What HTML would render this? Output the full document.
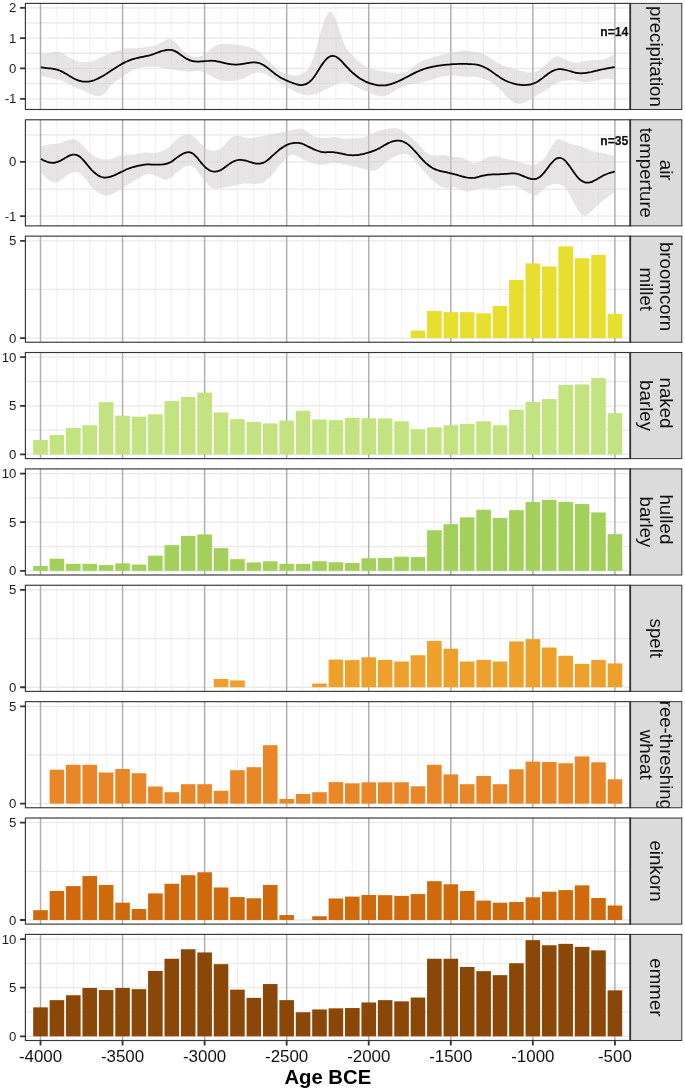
<!DOCTYPE html>
<html lang="en"><head><meta charset="utf-8"><title>Age BCE chart</title>
<style>html,body{margin:0;padding:0;background:#fff}svg{display:block}</style></head>
<body>
<svg width="685" height="1091" viewBox="0 0 685 1091" font-family='"Liberation Sans", Arial, Helvetica, sans-serif'>
<rect width="685" height="1091" fill="#fff"/>
<defs>
<clipPath id="cp0"><rect x="25.4" y="3.40" width="604.90" height="106.1"/></clipPath>
<clipPath id="cs0"><rect x="630.3" y="3.40" width="51.50" height="106.1"/></clipPath>
<clipPath id="cp1"><rect x="25.4" y="119.78" width="604.90" height="106.1"/></clipPath>
<clipPath id="cs1"><rect x="630.3" y="119.78" width="51.50" height="106.1"/></clipPath>
<clipPath id="cp2"><rect x="25.4" y="236.15" width="604.90" height="106.1"/></clipPath>
<clipPath id="cs2"><rect x="630.3" y="236.15" width="51.50" height="106.1"/></clipPath>
<clipPath id="cp3"><rect x="25.4" y="352.52" width="604.90" height="106.1"/></clipPath>
<clipPath id="cs3"><rect x="630.3" y="352.52" width="51.50" height="106.1"/></clipPath>
<clipPath id="cp4"><rect x="25.4" y="468.90" width="604.90" height="106.1"/></clipPath>
<clipPath id="cs4"><rect x="630.3" y="468.90" width="51.50" height="106.1"/></clipPath>
<clipPath id="cp5"><rect x="25.4" y="585.27" width="604.90" height="106.1"/></clipPath>
<clipPath id="cs5"><rect x="630.3" y="585.27" width="51.50" height="106.1"/></clipPath>
<clipPath id="cp6"><rect x="25.4" y="701.65" width="604.90" height="106.1"/></clipPath>
<clipPath id="cs6"><rect x="630.3" y="701.65" width="51.50" height="106.1"/></clipPath>
<clipPath id="cp7"><rect x="25.4" y="818.02" width="604.90" height="106.1"/></clipPath>
<clipPath id="cs7"><rect x="630.3" y="818.02" width="51.50" height="106.1"/></clipPath>
<clipPath id="cp8"><rect x="25.4" y="934.40" width="604.90" height="106.1"/></clipPath>
<clipPath id="cs8"><rect x="630.3" y="934.40" width="51.50" height="106.1"/></clipPath>
</defs>
<g clip-path="url(#cp0)">
<path d="M56.91,3.4V109.5M73.32,3.4V109.5M89.73,3.4V109.5M106.15,3.4V109.5M138.97,3.4V109.5M155.38,3.4V109.5M171.79,3.4V109.5M188.2,3.4V109.5M221.03,3.4V109.5M237.44,3.4V109.5M253.85,3.4V109.5M270.26,3.4V109.5M303.08,3.4V109.5M319.49,3.4V109.5M335.91,3.4V109.5M352.32,3.4V109.5M385.14,3.4V109.5M401.55,3.4V109.5M417.96,3.4V109.5M434.37,3.4V109.5M467.2,3.4V109.5M483.61,3.4V109.5M500.02,3.4V109.5M516.43,3.4V109.5M549.25,3.4V109.5M565.67,3.4V109.5M582.08,3.4V109.5M598.49,3.4V109.5" stroke="#efefef" stroke-width="1" fill="none"/>
<path d="M25.4,7.8H630.3M25.4,22.95H630.3M25.4,38.1H630.3M25.4,53.25H630.3M25.4,68.4H630.3M25.4,83.6H630.3M25.4,98.8H630.3" stroke="#e9e9e9" stroke-width="1.3" fill="none"/>
<path d="M40.5,3.4V109.5M122.56,3.4V109.5M204.61,3.4V109.5M286.67,3.4V109.5M368.73,3.4V109.5M450.79,3.4V109.5M532.84,3.4V109.5M614.9,3.4V109.5" stroke="#b0b0b0" stroke-width="1.5" fill="none"/>
<path d="M40.88,54.19C41.22,54.17 42.22,54.11 42.88,54.06C43.55,54.01 44.22,53.97 44.88,53.91C45.55,53.84 46.22,53.77 46.88,53.67C47.55,53.56 48.22,53.42 48.88,53.26C49.55,53.1 50.22,52.89 50.88,52.7C51.55,52.51 52.22,52.29 52.88,52.14C53.55,51.99 54.22,51.85 54.88,51.79C55.55,51.73 56.22,51.72 56.88,51.76C57.55,51.81 58.22,51.91 58.88,52.06C59.55,52.22 60.22,52.44 60.88,52.7C61.55,52.97 62.22,53.3 62.88,53.65C63.55,54 64.22,54.39 64.88,54.78C65.55,55.16 66.22,55.57 66.88,55.96C67.55,56.36 68.22,56.76 68.88,57.16C69.55,57.55 70.22,57.95 70.88,58.34C71.55,58.72 72.22,59.1 72.88,59.45C73.55,59.8 74.22,60.15 74.88,60.45C75.55,60.76 76.22,61.05 76.88,61.29C77.55,61.53 78.22,61.75 78.88,61.91C79.55,62.07 80.22,62.18 80.88,62.25C81.55,62.32 82.22,62.33 82.88,62.33C83.55,62.33 84.22,62.29 84.88,62.26C85.55,62.23 86.22,62.19 86.88,62.15C87.55,62.11 88.22,62.08 88.88,62.03C89.55,61.97 90.22,61.92 90.88,61.8C91.55,61.68 92.22,61.53 92.88,61.31C93.55,61.09 94.22,60.79 94.88,60.48C95.55,60.16 96.22,59.78 96.88,59.42C97.55,59.06 98.22,58.68 98.88,58.34C99.55,57.99 100.22,57.66 100.88,57.35C101.55,57.04 102.22,56.75 102.88,56.46C103.55,56.18 104.22,55.91 104.88,55.63C105.55,55.36 106.22,55.08 106.88,54.8C107.55,54.53 108.22,54.24 108.88,53.96C109.55,53.68 110.22,53.39 110.88,53.12C111.55,52.85 112.22,52.57 112.88,52.32C113.55,52.06 114.22,51.82 114.88,51.59C115.55,51.36 116.22,51.15 116.88,50.94C117.55,50.72 118.22,50.52 118.88,50.32C119.55,50.12 120.22,49.92 120.88,49.73C121.55,49.54 122.22,49.34 122.88,49.17C123.55,48.99 124.22,48.82 124.88,48.68C125.55,48.53 126.22,48.4 126.88,48.32C127.55,48.23 128.22,48.18 128.88,48.15C129.55,48.12 130.22,48.14 130.88,48.16C131.55,48.18 132.22,48.23 132.88,48.26C133.55,48.29 134.22,48.34 134.88,48.35C135.55,48.36 136.22,48.37 136.88,48.33C137.55,48.29 138.22,48.22 138.88,48.14C139.55,48.05 140.22,47.93 140.88,47.81C141.55,47.7 142.22,47.56 142.88,47.45C143.55,47.33 144.22,47.21 144.88,47.11C145.55,47.02 146.22,46.93 146.88,46.87C147.55,46.81 148.22,46.78 148.88,46.74C149.55,46.7 150.22,46.69 150.88,46.62C151.55,46.56 152.22,46.49 152.88,46.34C153.55,46.2 154.22,46.01 154.88,45.78C155.55,45.54 156.22,45.25 156.88,44.94C157.55,44.63 158.22,44.29 158.88,43.93C159.55,43.58 160.22,43.2 160.88,42.81C161.55,42.42 162.22,41.99 162.88,41.59C163.55,41.19 164.22,40.75 164.88,40.4C165.55,40.05 166.22,39.69 166.88,39.47C167.55,39.25 168.22,39.08 168.88,39.07C169.55,39.06 170.22,39.17 170.88,39.4C171.55,39.63 172.22,40.01 172.88,40.44C173.55,40.87 174.22,41.41 174.88,41.98C175.55,42.55 176.22,43.19 176.88,43.87C177.55,44.55 178.22,45.33 178.88,46.08C179.55,46.84 180.22,47.66 180.88,48.4C181.55,49.14 182.22,49.86 182.88,50.51C183.55,51.17 184.22,51.76 184.88,52.31C185.55,52.86 186.22,53.36 186.88,53.82C187.55,54.27 188.22,54.68 188.88,55.03C189.55,55.38 190.22,55.66 190.88,55.91C191.55,56.16 192.22,56.36 192.88,56.53C193.55,56.71 194.22,56.86 194.88,56.95C195.55,57.04 196.22,57.11 196.88,57.08C197.55,57.06 198.22,56.97 198.88,56.82C199.55,56.68 200.22,56.46 200.88,56.21C201.55,55.96 202.22,55.67 202.88,55.31C203.55,54.95 204.22,54.53 204.88,54.04C205.55,53.55 206.22,52.96 206.88,52.37C207.55,51.78 208.22,51.11 208.88,50.51C209.55,49.91 210.22,49.3 210.88,48.76C211.55,48.22 212.22,47.71 212.88,47.25C213.55,46.78 214.22,46.35 214.88,45.97C215.55,45.59 216.22,45.26 216.88,44.99C217.55,44.73 218.22,44.53 218.88,44.38C219.55,44.22 220.22,44.13 220.88,44.05C221.55,43.97 222.22,43.93 222.88,43.9C223.55,43.86 224.22,43.85 224.88,43.86C225.55,43.86 226.22,43.89 226.88,43.92C227.55,43.95 228.22,44 228.88,44.05C229.55,44.09 230.22,44.15 230.88,44.2C231.55,44.26 232.22,44.32 232.88,44.38C233.55,44.44 234.22,44.51 234.88,44.59C235.55,44.66 236.22,44.74 236.88,44.82C237.55,44.9 238.22,44.99 238.88,45.07C239.55,45.16 240.22,45.25 240.88,45.35C241.55,45.46 242.22,45.57 242.88,45.7C243.55,45.82 244.22,45.97 244.88,46.12C245.55,46.26 246.22,46.43 246.88,46.59C247.55,46.76 248.22,46.93 248.88,47.12C249.55,47.3 250.22,47.5 250.88,47.72C251.55,47.94 252.22,48.18 252.88,48.45C253.55,48.73 254.22,49.02 254.88,49.35C255.55,49.67 256.22,50.02 256.88,50.41C257.55,50.81 258.22,51.23 258.88,51.72C259.55,52.21 260.22,52.77 260.88,53.35C261.55,53.93 262.22,54.58 262.88,55.22C263.55,55.87 264.22,56.55 264.88,57.22C265.55,57.9 266.22,58.59 266.88,59.28C267.55,59.97 268.22,60.68 268.88,61.37C269.55,62.06 270.22,62.76 270.88,63.43C271.55,64.1 272.22,64.76 272.88,65.37C273.55,65.99 274.22,66.57 274.88,67.13C275.55,67.68 276.22,68.21 276.88,68.71C277.55,69.22 278.22,69.7 278.88,70.16C279.55,70.61 280.22,71.04 280.88,71.45C281.55,71.85 282.22,72.22 282.88,72.57C283.55,72.92 284.22,73.25 284.88,73.54C285.55,73.84 286.22,74.11 286.88,74.34C287.55,74.57 288.22,74.76 288.88,74.92C289.55,75.08 290.22,75.21 290.88,75.31C291.55,75.41 292.22,75.49 292.88,75.53C293.55,75.57 294.22,75.58 294.88,75.56C295.55,75.53 296.22,75.47 296.88,75.37C297.55,75.28 298.22,75.16 298.88,74.99C299.55,74.82 300.22,74.62 300.88,74.35C301.55,74.08 302.22,73.76 302.88,73.38C303.55,72.99 304.22,72.57 304.88,72.04C305.55,71.51 306.22,70.95 306.88,70.21C307.55,69.47 308.22,68.64 308.88,67.59C309.55,66.54 310.22,65.34 310.88,63.91C311.55,62.49 312.22,60.86 312.88,59.04C313.55,57.22 314.22,55.16 314.88,52.99C315.55,50.83 316.22,48.45 316.88,46.06C317.55,43.68 318.22,41.14 318.88,38.69C319.55,36.24 320.22,33.71 320.88,31.37C321.55,29.02 322.22,26.71 322.88,24.64C323.55,22.57 324.22,20.61 324.88,18.96C325.55,17.3 326.22,15.83 326.88,14.71C327.55,13.6 328.22,12.75 328.88,12.28C329.55,11.8 330.22,11.64 330.88,11.85C331.55,12.06 332.22,12.64 332.88,13.54C333.55,14.45 334.22,15.77 334.88,17.28C335.55,18.79 336.22,20.68 336.88,22.59C337.55,24.5 338.22,26.68 338.88,28.74C339.55,30.81 340.22,32.98 340.88,34.96C341.55,36.93 342.22,38.86 342.88,40.58C343.55,42.3 344.22,43.89 344.88,45.28C345.55,46.67 346.22,47.86 346.88,48.92C347.55,49.99 348.22,50.83 348.88,51.66C349.55,52.48 350.22,53.16 350.88,53.86C351.55,54.55 352.22,55.2 352.88,55.85C353.55,56.5 354.22,57.13 354.88,57.76C355.55,58.39 356.22,59.02 356.88,59.62C357.55,60.23 358.22,60.83 358.88,61.41C359.55,61.99 360.22,62.55 360.88,63.09C361.55,63.62 362.22,64.14 362.88,64.63C363.55,65.12 364.22,65.6 364.88,66.03C365.55,66.46 366.22,66.86 366.88,67.2C367.55,67.55 368.22,67.83 368.88,68.08C369.55,68.33 370.22,68.53 370.88,68.72C371.55,68.92 372.22,69.09 372.88,69.25C373.55,69.42 374.22,69.58 374.88,69.73C375.55,69.88 376.22,70.02 376.88,70.16C377.55,70.3 378.22,70.44 378.88,70.57C379.55,70.7 380.22,70.83 380.88,70.96C381.55,71.09 382.22,71.21 382.88,71.33C383.55,71.45 384.22,71.57 384.88,71.68C385.55,71.79 386.22,71.89 386.88,71.99C387.55,72.1 388.22,72.2 388.88,72.3C389.55,72.4 390.22,72.51 390.88,72.61C391.55,72.72 392.22,72.83 392.88,72.95C393.55,73.06 394.22,73.19 394.88,73.3C395.55,73.41 396.22,73.54 396.88,73.62C397.55,73.69 398.22,73.76 398.88,73.76C399.55,73.76 400.22,73.7 400.88,73.6C401.55,73.49 402.22,73.33 402.88,73.13C403.55,72.94 404.22,72.7 404.88,72.42C405.55,72.14 406.22,71.82 406.88,71.45C407.55,71.08 408.22,70.65 408.88,70.2C409.55,69.75 410.22,69.25 410.88,68.76C411.55,68.26 412.22,67.75 412.88,67.24C413.55,66.73 414.22,66.22 414.88,65.71C415.55,65.2 416.22,64.69 416.88,64.2C417.55,63.71 418.22,63.21 418.88,62.77C419.55,62.33 420.22,61.91 420.88,61.55C421.55,61.19 422.22,60.88 422.88,60.6C423.55,60.32 424.22,60.08 424.88,59.85C425.55,59.61 426.22,59.4 426.88,59.18C427.55,58.96 428.22,58.76 428.88,58.55C429.55,58.34 430.22,58.14 430.88,57.93C431.55,57.73 432.22,57.53 432.88,57.33C433.55,57.13 434.22,56.93 434.88,56.74C435.55,56.55 436.22,56.36 436.88,56.17C437.55,55.99 438.22,55.81 438.88,55.63C439.55,55.46 440.22,55.29 440.88,55.12C441.55,54.95 442.22,54.79 442.88,54.62C443.55,54.46 444.22,54.29 444.88,54.14C445.55,53.98 446.22,53.83 446.88,53.68C447.55,53.53 448.22,53.39 448.88,53.25C449.55,53.11 450.22,52.97 450.88,52.84C451.55,52.71 452.22,52.57 452.88,52.45C453.55,52.32 454.22,52.19 454.88,52.07C455.55,51.95 456.22,51.83 456.88,51.72C457.55,51.61 458.22,51.5 458.88,51.4C459.55,51.3 460.22,51.19 460.88,51.1C461.55,51.02 462.22,50.92 462.88,50.86C463.55,50.8 464.22,50.76 464.88,50.75C465.55,50.74 466.22,50.77 466.88,50.82C467.55,50.87 468.22,50.95 468.88,51.03C469.55,51.12 470.22,51.22 470.88,51.31C471.55,51.41 472.22,51.51 472.88,51.62C473.55,51.72 474.22,51.83 474.88,51.96C475.55,52.08 476.22,52.22 476.88,52.37C477.55,52.51 478.22,52.67 478.88,52.84C479.55,53 480.22,53.17 480.88,53.36C481.55,53.55 482.22,53.74 482.88,53.98C483.55,54.22 484.22,54.48 484.88,54.78C485.55,55.08 486.22,55.43 486.88,55.79C487.55,56.15 488.22,56.55 488.88,56.95C489.55,57.36 490.22,57.78 490.88,58.22C491.55,58.66 492.22,59.11 492.88,59.57C493.55,60.03 494.22,60.51 494.88,60.97C495.55,61.43 496.22,61.89 496.88,62.32C497.55,62.75 498.22,63.16 498.88,63.53C499.55,63.9 500.22,64.24 500.88,64.56C501.55,64.88 502.22,65.17 502.88,65.45C503.55,65.72 504.22,65.98 504.88,66.22C505.55,66.45 506.22,66.67 506.88,66.87C507.55,67.07 508.22,67.25 508.88,67.43C509.55,67.61 510.22,67.78 510.88,67.95C511.55,68.13 512.22,68.29 512.88,68.48C513.55,68.66 514.22,68.84 514.88,69.04C515.55,69.23 516.22,69.44 516.88,69.65C517.55,69.85 518.22,70.07 518.88,70.27C519.55,70.48 520.22,70.68 520.88,70.86C521.55,71.04 522.22,71.21 522.88,71.36C523.55,71.51 524.22,71.64 524.88,71.77C525.55,71.9 526.22,72.02 526.88,72.13C527.55,72.23 528.22,72.34 528.88,72.4C529.55,72.46 530.22,72.5 530.88,72.48C531.55,72.47 532.22,72.41 532.88,72.31C533.55,72.21 534.22,72.06 534.88,71.88C535.55,71.69 536.22,71.48 536.88,71.19C537.55,70.9 538.22,70.56 538.88,70.16C539.55,69.76 540.22,69.28 540.88,68.78C541.55,68.28 542.22,67.72 542.88,67.15C543.55,66.58 544.22,65.98 544.88,65.35C545.55,64.73 546.22,64.07 546.88,63.4C547.55,62.74 548.22,62.04 548.88,61.39C549.55,60.74 550.22,60.07 550.88,59.48C551.55,58.9 552.22,58.34 552.88,57.89C553.55,57.43 554.22,57.03 554.88,56.77C555.55,56.5 556.22,56.33 556.88,56.28C557.55,56.24 558.22,56.33 558.88,56.48C559.55,56.63 560.22,56.9 560.88,57.18C561.55,57.45 562.22,57.79 562.88,58.13C563.55,58.46 564.22,58.83 564.88,59.18C565.55,59.52 566.22,59.88 566.88,60.2C567.55,60.52 568.22,60.82 568.88,61.08C569.55,61.34 570.22,61.57 570.88,61.77C571.55,61.97 572.22,62.15 572.88,62.29C573.55,62.42 574.22,62.53 574.88,62.59C575.55,62.65 576.22,62.65 576.88,62.63C577.55,62.6 578.22,62.52 578.88,62.44C579.55,62.35 580.22,62.24 580.88,62.12C581.55,62 582.22,61.86 582.88,61.72C583.55,61.58 584.22,61.43 584.88,61.27C585.55,61.12 586.22,60.95 586.88,60.79C587.55,60.64 588.22,60.47 588.88,60.34C589.55,60.21 590.22,60.08 590.88,59.99C591.55,59.91 592.22,59.86 592.88,59.83C593.55,59.8 594.22,59.82 594.88,59.84C595.55,59.86 596.22,59.91 596.88,59.94C597.55,59.96 598.22,60.01 598.88,60C599.55,59.99 600.22,59.97 600.88,59.89C601.55,59.82 602.22,59.69 602.88,59.53C603.55,59.38 604.22,59.17 604.88,58.95C605.55,58.73 606.22,58.49 606.88,58.22C607.55,57.95 608.22,57.65 608.88,57.34C609.55,57.03 610.22,56.68 610.88,56.33C611.55,55.98 612.25,55.62 612.88,55.26C613.52,54.9 614.38,54.37 614.68,54.19L614.68,79.42C614.38,79.37 613.52,79.25 612.88,79.17C612.25,79.09 611.55,79 610.88,78.92C610.22,78.85 609.55,78.76 608.88,78.71C608.22,78.66 607.55,78.61 606.88,78.61C606.22,78.61 605.55,78.65 604.88,78.72C604.22,78.79 603.55,78.91 602.88,79.04C602.22,79.17 601.55,79.33 600.88,79.49C600.22,79.64 599.55,79.81 598.88,79.98C598.22,80.14 597.55,80.31 596.88,80.48C596.22,80.64 595.55,80.81 594.88,80.98C594.22,81.14 593.55,81.31 592.88,81.47C592.22,81.63 591.55,81.8 590.88,81.94C590.22,82.08 589.55,82.23 588.88,82.31C588.22,82.39 587.55,82.44 586.88,82.43C586.22,82.42 585.55,82.34 584.88,82.24C584.22,82.15 583.55,81.99 582.88,81.85C582.22,81.7 581.55,81.53 580.88,81.39C580.22,81.24 579.55,81.09 578.88,80.97C578.22,80.85 577.55,80.75 576.88,80.67C576.22,80.58 575.55,80.53 574.88,80.47C574.22,80.42 573.55,80.38 572.88,80.35C572.22,80.32 571.55,80.29 570.88,80.29C570.22,80.28 569.55,80.28 568.88,80.32C568.22,80.35 567.55,80.41 566.88,80.48C566.22,80.56 565.55,80.66 564.88,80.76C564.22,80.87 563.55,80.98 562.88,81.11C562.22,81.24 561.55,81.37 560.88,81.55C560.22,81.72 559.55,81.91 558.88,82.14C558.22,82.37 557.55,82.64 556.88,82.94C556.22,83.24 555.55,83.57 554.88,83.93C554.22,84.28 553.55,84.66 552.88,85.08C552.22,85.5 551.55,85.95 550.88,86.43C550.22,86.91 549.55,87.43 548.88,87.94C548.22,88.45 547.55,88.99 546.88,89.48C546.22,89.98 545.55,90.46 544.88,90.9C544.22,91.34 543.55,91.73 542.88,92.11C542.22,92.5 541.55,92.84 540.88,93.21C540.22,93.57 539.55,93.92 538.88,94.3C538.22,94.68 537.55,95.07 536.88,95.48C536.22,95.88 535.55,96.31 534.88,96.73C534.22,97.15 533.55,97.59 532.88,98C532.22,98.42 531.55,98.83 530.88,99.21C530.22,99.59 529.55,99.96 528.88,100.31C528.22,100.66 527.55,100.99 526.88,101.31C526.22,101.62 525.55,101.92 524.88,102.18C524.22,102.45 523.55,102.69 522.88,102.89C522.22,103.1 521.55,103.29 520.88,103.43C520.22,103.57 519.55,103.69 518.88,103.72C518.22,103.75 517.55,103.73 516.88,103.61C516.22,103.48 515.55,103.25 514.88,102.97C514.22,102.69 513.55,102.33 512.88,101.92C512.22,101.51 511.55,101.05 510.88,100.52C510.22,100 509.55,99.4 508.88,98.76C508.22,98.12 507.55,97.4 506.88,96.69C506.22,95.97 505.55,95.2 504.88,94.47C504.22,93.73 503.55,92.98 502.88,92.27C502.22,91.55 501.55,90.85 500.88,90.17C500.22,89.49 499.55,88.82 498.88,88.18C498.22,87.54 497.55,86.92 496.88,86.33C496.22,85.75 495.55,85.2 494.88,84.68C494.22,84.17 493.55,83.69 492.88,83.23C492.22,82.77 491.55,82.34 490.88,81.94C490.22,81.54 489.55,81.17 488.88,80.84C488.22,80.51 487.55,80.23 486.88,79.96C486.22,79.69 485.55,79.46 484.88,79.23C484.22,79 483.55,78.79 482.88,78.58C482.22,78.38 481.55,78.18 480.88,77.99C480.22,77.8 479.55,77.61 478.88,77.45C478.22,77.28 477.55,77.12 476.88,77C476.22,76.89 475.55,76.8 474.88,76.75C474.22,76.71 473.55,76.72 472.88,76.73C472.22,76.74 471.55,76.8 470.88,76.82C470.22,76.84 469.55,76.85 468.88,76.84C468.22,76.83 467.55,76.79 466.88,76.75C466.22,76.71 465.55,76.64 464.88,76.58C464.22,76.52 463.55,76.45 462.88,76.39C462.22,76.33 461.55,76.27 460.88,76.21C460.22,76.15 459.55,76.09 458.88,76.04C458.22,75.98 457.55,75.93 456.88,75.88C456.22,75.83 455.55,75.78 454.88,75.74C454.22,75.7 453.55,75.66 452.88,75.65C452.22,75.63 451.55,75.63 450.88,75.65C450.22,75.67 449.55,75.72 448.88,75.77C448.22,75.83 447.55,75.91 446.88,75.99C446.22,76.07 445.55,76.15 444.88,76.25C444.22,76.35 443.55,76.45 442.88,76.58C442.22,76.7 441.55,76.84 440.88,77C440.22,77.15 439.55,77.33 438.88,77.51C438.22,77.7 437.55,77.89 436.88,78.09C436.22,78.28 435.55,78.49 434.88,78.69C434.22,78.88 433.55,79.08 432.88,79.28C432.22,79.48 431.55,79.68 430.88,79.88C430.22,80.08 429.55,80.29 428.88,80.48C428.22,80.68 427.55,80.88 426.88,81.07C426.22,81.27 425.55,81.46 424.88,81.63C424.22,81.81 423.55,81.97 422.88,82.12C422.22,82.27 421.55,82.4 420.88,82.52C420.22,82.64 419.55,82.74 418.88,82.85C418.22,82.96 417.55,83.05 416.88,83.16C416.22,83.27 415.55,83.38 414.88,83.5C414.22,83.62 413.55,83.74 412.88,83.88C412.22,84.01 411.55,84.16 410.88,84.31C410.22,84.46 409.55,84.62 408.88,84.79C408.22,84.95 407.55,85.13 406.88,85.32C406.22,85.5 405.55,85.7 404.88,85.92C404.22,86.13 403.55,86.35 402.88,86.6C402.22,86.84 401.55,87.1 400.88,87.4C400.22,87.69 399.55,88.02 398.88,88.38C398.22,88.74 397.55,89.14 396.88,89.55C396.22,89.96 395.55,90.4 394.88,90.82C394.22,91.25 393.55,91.69 392.88,92.1C392.22,92.52 391.55,92.94 390.88,93.33C390.22,93.73 389.55,94.12 388.88,94.46C388.22,94.79 387.55,95.11 386.88,95.36C386.22,95.61 385.55,95.81 384.88,95.98C384.22,96.14 383.55,96.25 382.88,96.33C382.22,96.4 381.55,96.45 380.88,96.42C380.22,96.4 379.55,96.32 378.88,96.19C378.22,96.06 377.55,95.86 376.88,95.64C376.22,95.42 375.55,95.16 374.88,94.9C374.22,94.63 373.55,94.35 372.88,94.07C372.22,93.79 371.55,93.51 370.88,93.22C370.22,92.94 369.55,92.65 368.88,92.37C368.22,92.09 367.55,91.8 366.88,91.53C366.22,91.25 365.55,90.98 364.88,90.7C364.22,90.43 363.55,90.16 362.88,89.88C362.22,89.6 361.55,89.32 360.88,89.03C360.22,88.74 359.55,88.44 358.88,88.13C358.22,87.82 357.55,87.49 356.88,87.17C356.22,86.84 355.55,86.51 354.88,86.18C354.22,85.85 353.55,85.51 352.88,85.18C352.22,84.85 351.55,84.52 350.88,84.2C350.22,83.89 349.55,83.56 348.88,83.29C348.22,83.03 347.55,82.78 346.88,82.62C346.22,82.45 345.55,82.35 344.88,82.31C344.22,82.28 343.55,82.32 342.88,82.39C342.22,82.45 341.55,82.57 340.88,82.72C340.22,82.87 339.55,83.06 338.88,83.29C338.22,83.51 337.55,83.78 336.88,84.07C336.22,84.35 335.55,84.68 334.88,84.99C334.22,85.31 333.55,85.64 332.88,85.96C332.22,86.27 331.55,86.59 330.88,86.9C330.22,87.22 329.55,87.53 328.88,87.84C328.22,88.15 327.55,88.46 326.88,88.78C326.22,89.09 325.55,89.42 324.88,89.74C324.22,90.07 323.55,90.4 322.88,90.73C322.22,91.06 321.55,91.39 320.88,91.71C320.22,92.02 319.55,92.34 318.88,92.63C318.22,92.92 317.55,93.19 316.88,93.44C316.22,93.69 315.55,93.92 314.88,94.12C314.22,94.33 313.55,94.53 312.88,94.69C312.22,94.86 311.55,95.02 310.88,95.12C310.22,95.22 309.55,95.28 308.88,95.29C308.22,95.3 307.55,95.25 306.88,95.17C306.22,95.1 305.55,94.98 304.88,94.85C304.22,94.72 303.55,94.57 302.88,94.4C302.22,94.23 301.55,94.04 300.88,93.82C300.22,93.61 299.55,93.36 298.88,93.1C298.22,92.84 297.55,92.55 296.88,92.25C296.22,91.95 295.55,91.64 294.88,91.31C294.22,90.98 293.55,90.63 292.88,90.26C292.22,89.9 291.55,89.52 290.88,89.13C290.22,88.75 289.55,88.35 288.88,87.96C288.22,87.57 287.55,87.17 286.88,86.79C286.22,86.4 285.55,86.02 284.88,85.63C284.22,85.24 283.55,84.86 282.88,84.48C282.22,84.09 281.55,83.69 280.88,83.29C280.22,82.89 279.55,82.47 278.88,82.05C278.22,81.63 277.55,81.19 276.88,80.76C276.22,80.32 275.55,79.88 274.88,79.43C274.22,78.99 273.55,78.55 272.88,78.1C272.22,77.66 271.55,77.21 270.88,76.78C270.22,76.35 269.55,75.91 268.88,75.51C268.22,75.11 267.55,74.73 266.88,74.39C266.22,74.06 265.55,73.77 264.88,73.53C264.22,73.28 263.55,73.08 262.88,72.91C262.22,72.75 261.55,72.61 260.88,72.52C260.22,72.44 259.55,72.39 258.88,72.4C258.22,72.41 257.55,72.48 256.88,72.58C256.22,72.68 255.55,72.83 254.88,73.02C254.22,73.2 253.55,73.42 252.88,73.68C252.22,73.95 251.55,74.26 250.88,74.6C250.22,74.95 249.55,75.35 248.88,75.74C248.22,76.12 247.55,76.55 246.88,76.91C246.22,77.28 245.55,77.63 244.88,77.93C244.22,78.23 243.55,78.47 242.88,78.69C242.22,78.92 241.55,79.1 240.88,79.28C240.22,79.45 239.55,79.62 238.88,79.77C238.22,79.92 237.55,80.07 236.88,80.2C236.22,80.33 235.55,80.44 234.88,80.53C234.22,80.63 233.55,80.7 232.88,80.77C232.22,80.83 231.55,80.89 230.88,80.93C230.22,80.98 229.55,81.03 228.88,81.05C228.22,81.07 227.55,81.08 226.88,81.06C226.22,81.04 225.55,80.99 224.88,80.93C224.22,80.86 223.55,80.76 222.88,80.65C222.22,80.54 221.55,80.41 220.88,80.25C220.22,80.09 219.55,79.91 218.88,79.69C218.22,79.48 217.55,79.24 216.88,78.97C216.22,78.71 215.55,78.42 214.88,78.12C214.22,77.82 213.55,77.5 212.88,77.17C212.22,76.83 211.55,76.47 210.88,76.1C210.22,75.74 209.55,75.34 208.88,74.96C208.22,74.58 207.55,74.18 206.88,73.82C206.22,73.46 205.55,73.11 204.88,72.8C204.22,72.49 203.55,72.21 202.88,71.96C202.22,71.71 201.55,71.48 200.88,71.3C200.22,71.11 199.55,70.94 198.88,70.84C198.22,70.74 197.55,70.68 196.88,70.7C196.22,70.71 195.55,70.82 194.88,70.92C194.22,71.02 193.55,71.19 192.88,71.3C192.22,71.41 191.55,71.52 190.88,71.57C190.22,71.62 189.55,71.62 188.88,71.61C188.22,71.59 187.55,71.53 186.88,71.48C186.22,71.42 185.55,71.35 184.88,71.27C184.22,71.2 183.55,71.13 182.88,71.05C182.22,70.97 181.55,70.89 180.88,70.8C180.22,70.72 179.55,70.63 178.88,70.53C178.22,70.43 177.55,70.33 176.88,70.21C176.22,70.09 175.55,69.95 174.88,69.82C174.22,69.68 173.55,69.53 172.88,69.4C172.22,69.28 171.55,69.17 170.88,69.07C170.22,68.97 169.55,68.9 168.88,68.81C168.22,68.72 167.55,68.65 166.88,68.55C166.22,68.46 165.55,68.35 164.88,68.23C164.22,68.1 163.55,67.95 162.88,67.8C162.22,67.66 161.55,67.48 160.88,67.34C160.22,67.2 159.55,67.06 158.88,66.95C158.22,66.84 157.55,66.76 156.88,66.71C156.22,66.65 155.55,66.62 154.88,66.6C154.22,66.58 153.55,66.58 152.88,66.58C152.22,66.58 151.55,66.58 150.88,66.59C150.22,66.6 149.55,66.61 148.88,66.64C148.22,66.66 147.55,66.7 146.88,66.74C146.22,66.77 145.55,66.82 144.88,66.87C144.22,66.92 143.55,66.97 142.88,67.05C142.22,67.12 141.55,67.2 140.88,67.31C140.22,67.43 139.55,67.57 138.88,67.74C138.22,67.92 137.55,68.13 136.88,68.37C136.22,68.61 135.55,68.88 134.88,69.17C134.22,69.46 133.55,69.77 132.88,70.11C132.22,70.45 131.55,70.83 130.88,71.22C130.22,71.62 129.55,72.05 128.88,72.47C128.22,72.9 127.55,73.34 126.88,73.78C126.22,74.22 125.55,74.67 124.88,75.11C124.22,75.56 123.55,76 122.88,76.45C122.22,76.9 121.55,77.34 120.88,77.79C120.22,78.24 119.55,78.69 118.88,79.15C118.22,79.61 117.55,80.07 116.88,80.54C116.22,81.02 115.55,81.48 114.88,81.99C114.22,82.49 113.55,82.99 112.88,83.58C112.22,84.17 111.55,84.8 110.88,85.54C110.22,86.28 109.55,87.15 108.88,88.02C108.22,88.88 107.55,89.87 106.88,90.72C106.22,91.57 105.55,92.42 104.88,93.1C104.22,93.78 103.55,94.35 102.88,94.81C102.22,95.26 101.55,95.58 100.88,95.82C100.22,96.06 99.55,96.19 98.88,96.25C98.22,96.32 97.55,96.31 96.88,96.23C96.22,96.15 95.55,95.99 94.88,95.78C94.22,95.56 93.55,95.25 92.88,94.94C92.22,94.63 91.55,94.25 90.88,93.91C90.22,93.58 89.55,93.24 88.88,92.93C88.22,92.62 87.55,92.33 86.88,92.05C86.22,91.78 85.55,91.51 84.88,91.26C84.22,91 83.55,90.75 82.88,90.51C82.22,90.26 81.55,90.03 80.88,89.8C80.22,89.56 79.55,89.33 78.88,89.07C78.22,88.81 77.55,88.55 76.88,88.25C76.22,87.95 75.55,87.62 74.88,87.28C74.22,86.93 73.55,86.55 72.88,86.17C72.22,85.8 71.55,85.41 70.88,85.03C70.22,84.65 69.55,84.28 68.88,83.92C68.22,83.56 67.55,83.21 66.88,82.87C66.22,82.53 65.55,82.2 64.88,81.9C64.22,81.59 63.55,81.3 62.88,81.04C62.22,80.79 61.55,80.56 60.88,80.35C60.22,80.15 59.55,79.97 58.88,79.8C58.22,79.63 57.55,79.47 56.88,79.32C56.22,79.17 55.55,79.02 54.88,78.88C54.22,78.74 53.55,78.6 52.88,78.46C52.22,78.32 51.55,78.19 50.88,78.05C50.22,77.91 49.55,77.78 48.88,77.64C48.22,77.5 47.55,77.36 46.88,77.22C46.22,77.07 45.55,76.93 44.88,76.79C44.22,76.64 43.55,76.5 42.88,76.35C42.22,76.2 41.22,75.99 40.88,75.91Z" fill="#cfcccc" fill-opacity="0.52" stroke="none"/>
<path d="M40.88,67.27C41.22,67.31 42.22,67.44 42.88,67.52C43.55,67.6 44.22,67.69 44.88,67.77C45.55,67.85 46.22,67.93 46.88,68.02C47.55,68.1 48.22,68.18 48.88,68.26C49.55,68.34 50.22,68.41 50.88,68.49C51.55,68.58 52.22,68.65 52.88,68.75C53.55,68.85 54.22,68.94 54.88,69.08C55.55,69.22 56.22,69.38 56.88,69.58C57.55,69.78 58.22,70.03 58.88,70.29C59.55,70.55 60.22,70.85 60.88,71.15C61.55,71.46 62.22,71.77 62.88,72.11C63.55,72.44 64.22,72.79 64.88,73.17C65.55,73.54 66.22,73.94 66.88,74.35C67.55,74.76 68.22,75.2 68.88,75.62C69.55,76.04 70.22,76.47 70.88,76.87C71.55,77.27 72.22,77.65 72.88,78.01C73.55,78.36 74.22,78.68 74.88,78.98C75.55,79.28 76.22,79.56 76.88,79.82C77.55,80.09 78.22,80.35 78.88,80.57C79.55,80.8 80.22,81.01 80.88,81.17C81.55,81.34 82.22,81.46 82.88,81.56C83.55,81.65 84.22,81.7 84.88,81.73C85.55,81.76 86.22,81.75 86.88,81.72C87.55,81.68 88.22,81.62 88.88,81.54C89.55,81.45 90.22,81.35 90.88,81.21C91.55,81.06 92.22,80.89 92.88,80.68C93.55,80.48 94.22,80.22 94.88,79.95C95.55,79.68 96.22,79.37 96.88,79.06C97.55,78.76 98.22,78.44 98.88,78.11C99.55,77.78 100.22,77.44 100.88,77.08C101.55,76.72 102.22,76.35 102.88,75.96C103.55,75.57 104.22,75.15 104.88,74.73C105.55,74.31 106.22,73.87 106.88,73.44C107.55,73 108.22,72.56 108.88,72.12C109.55,71.69 110.22,71.25 110.88,70.81C111.55,70.37 112.22,69.94 112.88,69.51C113.55,69.07 114.22,68.65 114.88,68.22C115.55,67.8 116.22,67.38 116.88,66.96C117.55,66.54 118.22,66.12 118.88,65.71C119.55,65.3 120.22,64.89 120.88,64.5C121.55,64.11 122.22,63.73 122.88,63.38C123.55,63.02 124.22,62.69 124.88,62.38C125.55,62.06 126.22,61.77 126.88,61.47C127.55,61.18 128.22,60.9 128.88,60.63C129.55,60.36 130.22,60.09 130.88,59.84C131.55,59.6 132.22,59.36 132.88,59.16C133.55,58.95 134.22,58.76 134.88,58.59C135.55,58.41 136.22,58.26 136.88,58.1C137.55,57.95 138.22,57.8 138.88,57.65C139.55,57.5 140.22,57.36 140.88,57.21C141.55,57.07 142.22,56.93 142.88,56.79C143.55,56.65 144.22,56.51 144.88,56.38C145.55,56.24 146.22,56.11 146.88,55.97C147.55,55.82 148.22,55.69 148.88,55.53C149.55,55.37 150.22,55.2 150.88,55C151.55,54.81 152.22,54.59 152.88,54.35C153.55,54.12 154.22,53.86 154.88,53.61C155.55,53.36 156.22,53.09 156.88,52.83C157.55,52.58 158.22,52.32 158.88,52.08C159.55,51.84 160.22,51.6 160.88,51.39C161.55,51.17 162.22,50.97 162.88,50.78C163.55,50.6 164.22,50.42 164.88,50.28C165.55,50.13 166.22,50 166.88,49.92C167.55,49.84 168.22,49.78 168.88,49.78C169.55,49.78 170.22,49.82 170.88,49.91C171.55,50.01 172.22,50.15 172.88,50.35C173.55,50.54 174.22,50.79 174.88,51.09C175.55,51.39 176.22,51.74 176.88,52.12C177.55,52.51 178.22,52.95 178.88,53.41C179.55,53.88 180.22,54.4 180.88,54.89C181.55,55.38 182.22,55.9 182.88,56.37C183.55,56.84 184.22,57.29 184.88,57.71C185.55,58.13 186.22,58.53 186.88,58.88C187.55,59.24 188.22,59.57 188.88,59.85C189.55,60.14 190.22,60.37 190.88,60.58C191.55,60.79 192.22,60.95 192.88,61.1C193.55,61.25 194.22,61.37 194.88,61.46C195.55,61.54 196.22,61.6 196.88,61.62C197.55,61.65 198.22,61.63 198.88,61.61C199.55,61.59 200.22,61.54 200.88,61.49C201.55,61.45 202.22,61.39 202.88,61.34C203.55,61.28 204.22,61.23 204.88,61.17C205.55,61.11 206.22,61.05 206.88,61C207.55,60.94 208.22,60.88 208.88,60.84C209.55,60.8 210.22,60.75 210.88,60.74C211.55,60.73 212.22,60.74 212.88,60.78C213.55,60.82 214.22,60.89 214.88,60.97C215.55,61.05 216.22,61.16 216.88,61.28C217.55,61.39 218.22,61.52 218.88,61.66C219.55,61.8 220.22,61.95 220.88,62.11C221.55,62.26 222.22,62.43 222.88,62.6C223.55,62.76 224.22,62.93 224.88,63.08C225.55,63.24 226.22,63.38 226.88,63.52C227.55,63.65 228.22,63.77 228.88,63.88C229.55,64 230.22,64.1 230.88,64.2C231.55,64.29 232.22,64.39 232.88,64.46C233.55,64.53 234.22,64.59 234.88,64.61C235.55,64.63 236.22,64.63 236.88,64.6C237.55,64.56 238.22,64.49 238.88,64.42C239.55,64.35 240.22,64.25 240.88,64.15C241.55,64.06 242.22,63.96 242.88,63.86C243.55,63.75 244.22,63.65 244.88,63.54C245.55,63.44 246.22,63.33 246.88,63.22C247.55,63.11 248.22,62.99 248.88,62.89C249.55,62.78 250.22,62.67 250.88,62.59C251.55,62.51 252.22,62.44 252.88,62.4C253.55,62.37 254.22,62.35 254.88,62.38C255.55,62.41 256.22,62.45 256.88,62.56C257.55,62.66 258.22,62.81 258.88,63.01C259.55,63.21 260.22,63.48 260.88,63.78C261.55,64.08 262.22,64.44 262.88,64.82C263.55,65.19 264.22,65.6 264.88,66.03C265.55,66.46 266.22,66.92 266.88,67.41C267.55,67.89 268.22,68.41 268.88,68.94C269.55,69.46 270.22,70.01 270.88,70.54C271.55,71.08 272.22,71.62 272.88,72.14C273.55,72.66 274.22,73.18 274.88,73.68C275.55,74.18 276.22,74.67 276.88,75.14C277.55,75.61 278.22,76.08 278.88,76.51C279.55,76.94 280.22,77.35 280.88,77.73C281.55,78.11 282.22,78.45 282.88,78.79C283.55,79.13 284.22,79.44 284.88,79.75C285.55,80.06 286.22,80.36 286.88,80.65C287.55,80.94 288.22,81.22 288.88,81.5C289.55,81.77 290.22,82.04 290.88,82.3C291.55,82.56 292.22,82.82 292.88,83.05C293.55,83.29 294.22,83.52 294.88,83.73C295.55,83.94 296.22,84.14 296.88,84.31C297.55,84.49 298.22,84.66 298.88,84.78C299.55,84.89 300.22,84.99 300.88,85.01C301.55,85.03 302.22,85.01 302.88,84.91C303.55,84.82 304.22,84.66 304.88,84.45C305.55,84.23 306.22,83.96 306.88,83.61C307.55,83.27 308.22,82.87 308.88,82.39C309.55,81.9 310.22,81.34 310.88,80.69C311.55,80.04 312.22,79.3 312.88,78.48C313.55,77.67 314.22,76.76 314.88,75.8C315.55,74.84 316.22,73.78 316.88,72.74C317.55,71.69 318.22,70.57 318.88,69.5C319.55,68.43 320.22,67.34 320.88,66.32C321.55,65.3 322.22,64.3 322.88,63.38C323.55,62.45 324.22,61.57 324.88,60.78C325.55,59.99 326.22,59.25 326.88,58.63C327.55,58.01 328.22,57.47 328.88,57.05C329.55,56.63 330.22,56.32 330.88,56.12C331.55,55.92 332.22,55.84 332.88,55.86C333.55,55.88 334.22,56.03 334.88,56.25C335.55,56.48 336.22,56.82 336.88,57.23C337.55,57.65 338.22,58.16 338.88,58.72C339.55,59.29 340.22,59.94 340.88,60.6C341.55,61.26 342.22,61.98 342.88,62.69C343.55,63.4 344.22,64.14 344.88,64.86C345.55,65.58 346.22,66.32 346.88,67.04C347.55,67.75 348.22,68.47 348.88,69.16C349.55,69.85 350.22,70.53 350.88,71.16C351.55,71.8 352.22,72.41 352.88,72.99C353.55,73.58 354.22,74.14 354.88,74.68C355.55,75.22 356.22,75.75 356.88,76.24C357.55,76.74 358.22,77.21 358.88,77.66C359.55,78.11 360.22,78.54 360.88,78.95C361.55,79.36 362.22,79.75 362.88,80.12C363.55,80.49 364.22,80.85 364.88,81.18C365.55,81.51 366.22,81.81 366.88,82.1C367.55,82.39 368.22,82.66 368.88,82.91C369.55,83.17 370.22,83.41 370.88,83.62C371.55,83.84 372.22,84.03 372.88,84.21C373.55,84.39 374.22,84.54 374.88,84.68C375.55,84.82 376.22,84.95 376.88,85.05C377.55,85.16 378.22,85.25 378.88,85.31C379.55,85.37 380.22,85.41 380.88,85.43C381.55,85.45 382.22,85.46 382.88,85.44C383.55,85.42 384.22,85.38 384.88,85.31C385.55,85.25 386.22,85.15 386.88,85.03C387.55,84.92 388.22,84.76 388.88,84.6C389.55,84.44 390.22,84.26 390.88,84.07C391.55,83.87 392.22,83.67 392.88,83.44C393.55,83.22 394.22,82.98 394.88,82.73C395.55,82.47 396.22,82.21 396.88,81.93C397.55,81.66 398.22,81.37 398.88,81.07C399.55,80.78 400.22,80.46 400.88,80.14C401.55,79.81 402.22,79.47 402.88,79.13C403.55,78.78 404.22,78.43 404.88,78.07C405.55,77.72 406.22,77.36 406.88,77.01C407.55,76.66 408.22,76.3 408.88,75.95C409.55,75.59 410.22,75.24 410.88,74.89C411.55,74.54 412.22,74.19 412.88,73.85C413.55,73.51 414.22,73.18 414.88,72.86C415.55,72.53 416.22,72.21 416.88,71.9C417.55,71.59 418.22,71.28 418.88,70.99C419.55,70.7 420.22,70.42 420.88,70.15C421.55,69.89 422.22,69.64 422.88,69.4C423.55,69.17 424.22,68.94 424.88,68.73C425.55,68.51 426.22,68.31 426.88,68.12C427.55,67.93 428.22,67.75 428.88,67.59C429.55,67.43 430.22,67.28 430.88,67.13C431.55,66.99 432.22,66.85 432.88,66.72C433.55,66.59 434.22,66.46 434.88,66.33C435.55,66.21 436.22,66.09 436.88,65.98C437.55,65.87 438.22,65.77 438.88,65.67C439.55,65.58 440.22,65.49 440.88,65.4C441.55,65.32 442.22,65.23 442.88,65.15C443.55,65.07 444.22,64.99 444.88,64.92C445.55,64.84 446.22,64.77 446.88,64.71C447.55,64.64 448.22,64.59 448.88,64.53C449.55,64.47 450.22,64.42 450.88,64.37C451.55,64.32 452.22,64.27 452.88,64.23C453.55,64.18 454.22,64.14 454.88,64.1C455.55,64.06 456.22,64.03 456.88,64C457.55,63.97 458.22,63.95 458.88,63.93C459.55,63.91 460.22,63.89 460.88,63.88C461.55,63.86 462.22,63.85 462.88,63.85C463.55,63.84 464.22,63.84 464.88,63.86C465.55,63.87 466.22,63.9 466.88,63.93C467.55,63.96 468.22,64.01 468.88,64.05C469.55,64.09 470.22,64.13 470.88,64.16C471.55,64.19 472.22,64.21 472.88,64.25C473.55,64.28 474.22,64.31 474.88,64.37C475.55,64.44 476.22,64.53 476.88,64.65C477.55,64.77 478.22,64.92 478.88,65.1C479.55,65.28 480.22,65.49 480.88,65.72C481.55,65.96 482.22,66.22 482.88,66.51C483.55,66.8 484.22,67.12 484.88,67.46C485.55,67.79 486.22,68.15 486.88,68.53C487.55,68.9 488.22,69.3 488.88,69.72C489.55,70.13 490.22,70.58 490.88,71.04C491.55,71.49 492.22,71.97 492.88,72.45C493.55,72.92 494.22,73.4 494.88,73.87C495.55,74.35 496.22,74.81 496.88,75.27C497.55,75.73 498.22,76.19 498.88,76.63C499.55,77.08 500.22,77.52 500.88,77.93C501.55,78.35 502.22,78.76 502.88,79.14C503.55,79.52 504.22,79.88 504.88,80.21C505.55,80.55 506.22,80.87 506.88,81.18C507.55,81.48 508.22,81.77 508.88,82.04C509.55,82.3 510.22,82.55 510.88,82.78C511.55,83.01 512.22,83.21 512.88,83.4C513.55,83.6 514.22,83.77 514.88,83.93C515.55,84.09 516.22,84.24 516.88,84.36C517.55,84.49 518.22,84.59 518.88,84.68C519.55,84.77 520.22,84.84 520.88,84.9C521.55,84.96 522.22,85.01 522.88,85.03C523.55,85.05 524.22,85.06 524.88,85.04C525.55,85.02 526.22,84.98 526.88,84.93C527.55,84.87 528.22,84.8 528.88,84.69C529.55,84.59 530.22,84.47 530.88,84.31C531.55,84.14 532.22,83.94 532.88,83.71C533.55,83.48 534.22,83.22 534.88,82.92C535.55,82.62 536.22,82.29 536.88,81.92C537.55,81.55 538.22,81.13 538.88,80.7C539.55,80.26 540.22,79.79 540.88,79.31C541.55,78.83 542.22,78.33 542.88,77.83C543.55,77.32 544.22,76.8 544.88,76.29C545.55,75.77 546.22,75.24 546.88,74.74C547.55,74.24 548.22,73.74 548.88,73.28C549.55,72.82 550.22,72.38 550.88,71.99C551.55,71.59 552.22,71.22 552.88,70.9C553.55,70.57 554.22,70.29 554.88,70.05C555.55,69.82 556.22,69.64 556.88,69.5C557.55,69.36 558.22,69.28 558.88,69.22C559.55,69.17 560.22,69.17 560.88,69.19C561.55,69.22 562.22,69.29 562.88,69.39C563.55,69.48 564.22,69.61 564.88,69.75C565.55,69.89 566.22,70.06 566.88,70.23C567.55,70.39 568.22,70.58 568.88,70.77C569.55,70.96 570.22,71.17 570.88,71.37C571.55,71.57 572.22,71.79 572.88,71.98C573.55,72.18 574.22,72.37 574.88,72.53C575.55,72.69 576.22,72.83 576.88,72.94C577.55,73.06 578.22,73.15 578.88,73.21C579.55,73.27 580.22,73.31 580.88,73.31C581.55,73.32 582.22,73.29 582.88,73.24C583.55,73.2 584.22,73.12 584.88,73.04C585.55,72.95 586.22,72.86 586.88,72.75C587.55,72.65 588.22,72.53 588.88,72.41C589.55,72.28 590.22,72.15 590.88,72C591.55,71.86 592.22,71.7 592.88,71.54C593.55,71.38 594.22,71.21 594.88,71.05C595.55,70.89 596.22,70.72 596.88,70.57C597.55,70.41 598.22,70.25 598.88,70.1C599.55,69.95 600.22,69.81 600.88,69.67C601.55,69.53 602.22,69.39 602.88,69.26C603.55,69.12 604.22,68.99 604.88,68.86C605.55,68.73 606.22,68.6 606.88,68.47C607.55,68.34 608.22,68.21 608.88,68.09C609.55,67.96 610.22,67.84 610.88,67.72C611.55,67.6 612.25,67.49 612.88,67.37C613.52,67.26 614.38,67.09 614.68,67.04" fill="none" stroke="#000" stroke-width="1.75" stroke-linejoin="round"/>
</g>
<rect x="25.4" y="3.4" width="604.9" height="106.1" fill="none" stroke="#363636" stroke-width="1.15"/>
<rect x="630.3" y="3.4" width="51.5" height="106.1" fill="#dbdbdb" stroke="#333" stroke-width="1"/>
<path d="M630.3,3.1V109.8" stroke="#333" stroke-width="1.6" fill="none"/>
<g clip-path="url(#cs0)" font-size="18.7" fill="#111" text-anchor="middle">
<text transform="translate(649.5,56.45) rotate(90)">precipitation</text>
</g>
<path d="M20.1,7.8H25.4M20.1,38.1H25.4M20.1,68.4H25.4M20.1,98.8H25.4" stroke="#333" stroke-width="1.8" fill="none"/>
<g font-size="13.2" fill="#1c1c1c" text-anchor="end">
<text x="16.4" y="12.35">2</text>
<text x="16.4" y="42.65">1</text>
<text x="16.4" y="72.95">0</text>
<text x="16.4" y="103.35">-1</text>
</g>
<g clip-path="url(#cp1)">
<path d="M56.91,119.78V225.88M73.32,119.78V225.88M89.73,119.78V225.88M106.15,119.78V225.88M138.97,119.78V225.88M155.38,119.78V225.88M171.79,119.78V225.88M188.2,119.78V225.88M221.03,119.78V225.88M237.44,119.78V225.88M253.85,119.78V225.88M270.26,119.78V225.88M303.08,119.78V225.88M319.49,119.78V225.88M335.91,119.78V225.88M352.32,119.78V225.88M385.14,119.78V225.88M401.55,119.78V225.88M417.96,119.78V225.88M434.37,119.78V225.88M467.2,119.78V225.88M483.61,119.78V225.88M500.02,119.78V225.88M516.43,119.78V225.88M549.25,119.78V225.88M565.67,119.78V225.88M582.08,119.78V225.88M598.49,119.78V225.88" stroke="#efefef" stroke-width="1" fill="none"/>
<path d="M25.4,134.78H630.3M25.4,161.88H630.3M25.4,189.07H630.3M25.4,216.18H630.3" stroke="#e9e9e9" stroke-width="1.3" fill="none"/>
<path d="M40.5,119.78V225.88M122.56,119.78V225.88M204.61,119.78V225.88M286.67,119.78V225.88M368.73,119.78V225.88M450.79,119.78V225.88M532.84,119.78V225.88M614.9,119.78V225.88" stroke="#b0b0b0" stroke-width="1.5" fill="none"/>
<path d="M40.88,146.53C41.22,146.43 42.22,146.12 42.88,145.91C43.55,145.71 44.22,145.5 44.88,145.31C45.55,145.13 46.22,144.94 46.88,144.8C47.55,144.65 48.22,144.52 48.88,144.44C49.55,144.35 50.22,144.3 50.88,144.26C51.55,144.22 52.22,144.22 52.88,144.2C53.55,144.17 54.22,144.17 54.88,144.12C55.55,144.08 56.22,144.02 56.88,143.91C57.55,143.8 58.22,143.65 58.88,143.46C59.55,143.27 60.22,143.02 60.88,142.78C61.55,142.53 62.22,142.25 62.88,141.99C63.55,141.73 64.22,141.45 64.88,141.2C65.55,140.96 66.22,140.71 66.88,140.49C67.55,140.27 68.22,140.06 68.88,139.87C69.55,139.69 70.22,139.5 70.88,139.39C71.55,139.27 72.22,139.16 72.88,139.18C73.55,139.19 74.22,139.27 74.88,139.46C75.55,139.64 76.22,139.94 76.88,140.3C77.55,140.66 78.22,141.12 78.88,141.64C79.55,142.16 80.22,142.77 80.88,143.41C81.55,144.06 82.22,144.79 82.88,145.51C83.55,146.23 84.22,147 84.88,147.74C85.55,148.47 86.22,149.21 86.88,149.91C87.55,150.61 88.22,151.3 88.88,151.96C89.55,152.61 90.22,153.25 90.88,153.82C91.55,154.39 92.22,154.92 92.88,155.37C93.55,155.82 94.22,156.19 94.88,156.53C95.55,156.86 96.22,157.13 96.88,157.4C97.55,157.67 98.22,157.91 98.88,158.14C99.55,158.37 100.22,158.58 100.88,158.77C101.55,158.95 102.22,159.1 102.88,159.22C103.55,159.35 104.22,159.43 104.88,159.49C105.55,159.55 106.22,159.59 106.88,159.57C107.55,159.56 108.22,159.51 108.88,159.4C109.55,159.29 110.22,159.12 110.88,158.92C111.55,158.72 112.22,158.46 112.88,158.2C113.55,157.95 114.22,157.66 114.88,157.4C115.55,157.14 116.22,156.87 116.88,156.64C117.55,156.41 118.22,156.19 118.88,156C119.55,155.82 120.22,155.67 120.88,155.53C121.55,155.39 122.22,155.28 122.88,155.18C123.55,155.08 124.22,154.99 124.88,154.93C125.55,154.86 126.22,154.82 126.88,154.78C127.55,154.75 128.22,154.74 128.88,154.72C129.55,154.71 130.22,154.71 130.88,154.7C131.55,154.68 132.22,154.67 132.88,154.63C133.55,154.59 134.22,154.54 134.88,154.46C135.55,154.37 136.22,154.25 136.88,154.12C137.55,153.99 138.22,153.83 138.88,153.68C139.55,153.53 140.22,153.36 140.88,153.23C141.55,153.09 142.22,152.95 142.88,152.86C143.55,152.77 144.22,152.71 144.88,152.69C145.55,152.66 146.22,152.68 146.88,152.71C147.55,152.74 148.22,152.8 148.88,152.86C149.55,152.91 150.22,152.98 150.88,153.04C151.55,153.09 152.22,153.15 152.88,153.17C153.55,153.19 154.22,153.2 154.88,153.15C155.55,153.1 156.22,153 156.88,152.86C157.55,152.72 158.22,152.52 158.88,152.32C159.55,152.11 160.22,151.86 160.88,151.61C161.55,151.36 162.22,151.1 162.88,150.8C163.55,150.5 164.22,150.18 164.88,149.81C165.55,149.45 166.22,149.04 166.88,148.6C167.55,148.15 168.22,147.68 168.88,147.16C169.55,146.64 170.22,146.09 170.88,145.46C171.55,144.83 172.22,144.11 172.88,143.38C173.55,142.65 174.22,141.8 174.88,141.07C175.55,140.34 176.22,139.62 176.88,139.02C177.55,138.43 178.22,137.94 178.88,137.5C179.55,137.06 180.22,136.71 180.88,136.38C181.55,136.05 182.22,135.77 182.88,135.52C183.55,135.27 184.22,135.05 184.88,134.87C185.55,134.69 186.22,134.53 186.88,134.45C187.55,134.37 188.22,134.33 188.88,134.4C189.55,134.46 190.22,134.62 190.88,134.85C191.55,135.09 192.22,135.4 192.88,135.81C193.55,136.22 194.22,136.72 194.88,137.31C195.55,137.9 196.22,138.62 196.88,139.35C197.55,140.08 198.22,140.92 198.88,141.69C199.55,142.45 200.22,143.23 200.88,143.93C201.55,144.63 202.22,145.28 202.88,145.89C203.55,146.49 204.22,147.05 204.88,147.55C205.55,148.06 206.22,148.52 206.88,148.91C207.55,149.3 208.22,149.61 208.88,149.87C209.55,150.13 210.22,150.3 210.88,150.45C211.55,150.59 212.22,150.68 212.88,150.73C213.55,150.77 214.22,150.77 214.88,150.7C215.55,150.63 216.22,150.51 216.88,150.33C217.55,150.15 218.22,149.92 218.88,149.61C219.55,149.3 220.22,148.93 220.88,148.44C221.55,147.95 222.22,147.34 222.88,146.67C223.55,145.99 224.22,145.17 224.88,144.39C225.55,143.61 226.22,142.75 226.88,141.99C227.55,141.22 228.22,140.47 228.88,139.81C229.55,139.14 230.22,138.53 230.88,138.01C231.55,137.49 232.22,137.03 232.88,136.69C233.55,136.35 234.22,136.11 234.88,135.95C235.55,135.79 236.22,135.74 236.88,135.73C237.55,135.72 238.22,135.79 238.88,135.9C239.55,136 240.22,136.18 240.88,136.37C241.55,136.55 242.22,136.81 242.88,137.03C243.55,137.25 244.22,137.51 244.88,137.7C245.55,137.89 246.22,138.07 246.88,138.18C247.55,138.28 248.22,138.32 248.88,138.31C249.55,138.31 250.22,138.23 250.88,138.16C251.55,138.08 252.22,137.97 252.88,137.86C253.55,137.75 254.22,137.63 254.88,137.51C255.55,137.39 256.22,137.27 256.88,137.14C257.55,137.02 258.22,136.89 258.88,136.76C259.55,136.63 260.22,136.49 260.88,136.36C261.55,136.23 262.22,136.1 262.88,135.96C263.55,135.83 264.22,135.7 264.88,135.56C265.55,135.43 266.22,135.3 266.88,135.16C267.55,135.03 268.22,134.9 268.88,134.76C269.55,134.63 270.22,134.5 270.88,134.36C271.55,134.23 272.22,134.1 272.88,133.96C273.55,133.83 274.22,133.7 274.88,133.56C275.55,133.43 276.22,133.3 276.88,133.16C277.55,133.03 278.22,132.9 278.88,132.76C279.55,132.63 280.22,132.5 280.88,132.36C281.55,132.23 282.22,132.1 282.88,131.96C283.55,131.83 284.22,131.7 284.88,131.56C285.55,131.43 286.22,131.3 286.88,131.16C287.55,131.03 288.22,130.89 288.88,130.75C289.55,130.61 290.22,130.47 290.88,130.32C291.55,130.17 292.22,130.01 292.88,129.85C293.55,129.7 294.22,129.52 294.88,129.36C295.55,129.21 296.22,129.04 296.88,128.92C297.55,128.8 298.22,128.68 298.88,128.63C299.55,128.59 300.22,128.58 300.88,128.66C301.55,128.75 302.22,128.9 302.88,129.15C303.55,129.4 304.22,129.76 304.88,130.17C305.55,130.57 306.22,131.09 306.88,131.58C307.55,132.07 308.22,132.62 308.88,133.1C309.55,133.59 310.22,134.07 310.88,134.5C311.55,134.93 312.22,135.34 312.88,135.7C313.55,136.05 314.22,136.37 314.88,136.62C315.55,136.88 316.22,137.07 316.88,137.24C317.55,137.41 318.22,137.51 318.88,137.62C319.55,137.72 320.22,137.81 320.88,137.88C321.55,137.94 322.22,138.01 322.88,138.03C323.55,138.06 324.22,138.06 324.88,138.03C325.55,138 326.22,137.92 326.88,137.84C327.55,137.76 328.22,137.63 328.88,137.53C329.55,137.43 330.22,137.31 330.88,137.24C331.55,137.17 332.22,137.11 332.88,137.1C333.55,137.1 334.22,137.14 334.88,137.2C335.55,137.27 336.22,137.38 336.88,137.49C337.55,137.6 338.22,137.73 338.88,137.85C339.55,137.96 340.22,138.08 340.88,138.19C341.55,138.29 342.22,138.38 342.88,138.46C343.55,138.55 344.22,138.62 344.88,138.67C345.55,138.73 346.22,138.78 346.88,138.79C347.55,138.81 348.22,138.8 348.88,138.77C349.55,138.73 350.22,138.66 350.88,138.59C351.55,138.52 352.22,138.42 352.88,138.34C353.55,138.27 354.22,138.19 354.88,138.15C355.55,138.11 356.22,138.09 356.88,138.08C357.55,138.07 358.22,138.1 358.88,138.09C359.55,138.08 360.22,138.09 360.88,138.01C361.55,137.94 362.22,137.84 362.88,137.67C363.55,137.5 364.22,137.25 364.88,136.99C365.55,136.72 366.22,136.4 366.88,136.08C367.55,135.77 368.22,135.43 368.88,135.1C369.55,134.77 370.22,134.43 370.88,134.11C371.55,133.78 372.22,133.44 372.88,133.13C373.55,132.81 374.22,132.49 374.88,132.21C375.55,131.93 376.22,131.66 376.88,131.42C377.55,131.18 378.22,130.98 378.88,130.78C379.55,130.58 380.22,130.41 380.88,130.24C381.55,130.07 382.22,129.9 382.88,129.75C383.55,129.59 384.22,129.44 384.88,129.31C385.55,129.17 386.22,129.05 386.88,128.94C387.55,128.83 388.22,128.73 388.88,128.64C389.55,128.55 390.22,128.46 390.88,128.39C391.55,128.32 392.22,128.25 392.88,128.22C393.55,128.19 394.22,128.18 394.88,128.23C395.55,128.28 396.22,128.37 396.88,128.51C397.55,128.65 398.22,128.83 398.88,129.07C399.55,129.32 400.22,129.61 400.88,129.96C401.55,130.32 402.22,130.75 402.88,131.2C403.55,131.65 404.22,132.17 404.88,132.67C405.55,133.18 406.22,133.71 406.88,134.23C407.55,134.75 408.22,135.26 408.88,135.79C409.55,136.31 410.22,136.82 410.88,137.36C411.55,137.89 412.22,138.43 412.88,139C413.55,139.57 414.22,140.17 414.88,140.78C415.55,141.4 416.22,142.04 416.88,142.69C417.55,143.35 418.22,144.02 418.88,144.7C419.55,145.39 420.22,146.1 420.88,146.82C421.55,147.54 422.22,148.29 422.88,149.02C423.55,149.74 424.22,150.51 424.88,151.18C425.55,151.85 426.22,152.51 426.88,153.03C427.55,153.56 428.22,153.99 428.88,154.33C429.55,154.67 430.22,154.88 430.88,155.07C431.55,155.26 432.22,155.36 432.88,155.45C433.55,155.54 434.22,155.58 434.88,155.6C435.55,155.61 436.22,155.58 436.88,155.54C437.55,155.5 438.22,155.42 438.88,155.36C439.55,155.3 440.22,155.21 440.88,155.17C441.55,155.13 442.22,155.08 442.88,155.1C443.55,155.12 444.22,155.17 444.88,155.27C445.55,155.37 446.22,155.54 446.88,155.7C447.55,155.86 448.22,156.07 448.88,156.23C449.55,156.39 450.22,156.56 450.88,156.68C451.55,156.79 452.22,156.87 452.88,156.93C453.55,156.99 454.22,157 454.88,157.03C455.55,157.05 456.22,157.05 456.88,157.08C457.55,157.12 458.22,157.15 458.88,157.24C459.55,157.34 460.22,157.46 460.88,157.65C461.55,157.84 462.22,158.09 462.88,158.36C463.55,158.63 464.22,158.95 464.88,159.27C465.55,159.58 466.22,159.92 466.88,160.25C467.55,160.58 468.22,160.92 468.88,161.24C469.55,161.56 470.22,161.9 470.88,162.18C471.55,162.46 472.22,162.76 472.88,162.93C473.55,163.09 474.22,163.21 474.88,163.2C475.55,163.18 476.22,163.04 476.88,162.85C477.55,162.66 478.22,162.35 478.88,162.05C479.55,161.76 480.22,161.41 480.88,161.07C481.55,160.73 482.22,160.37 482.88,160.01C483.55,159.65 484.22,159.28 484.88,158.93C485.55,158.57 486.22,158.21 486.88,157.9C487.55,157.59 488.22,157.3 488.88,157.07C489.55,156.84 490.22,156.67 490.88,156.54C491.55,156.41 492.22,156.33 492.88,156.28C493.55,156.22 494.22,156.2 494.88,156.23C495.55,156.25 496.22,156.32 496.88,156.43C497.55,156.54 498.22,156.7 498.88,156.88C499.55,157.05 500.22,157.26 500.88,157.46C501.55,157.66 502.22,157.88 502.88,158.08C503.55,158.27 504.22,158.47 504.88,158.64C505.55,158.81 506.22,158.97 506.88,159.11C507.55,159.26 508.22,159.39 508.88,159.51C509.55,159.64 510.22,159.76 510.88,159.89C511.55,160.01 512.22,160.14 512.88,160.28C513.55,160.42 514.22,160.57 514.88,160.75C515.55,160.92 516.22,161.11 516.88,161.31C517.55,161.51 518.22,161.72 518.88,161.93C519.55,162.14 520.22,162.35 520.88,162.55C521.55,162.75 522.22,162.94 522.88,163.13C523.55,163.31 524.22,163.49 524.88,163.66C525.55,163.83 526.22,164 526.88,164.16C527.55,164.31 528.22,164.47 528.88,164.57C529.55,164.68 530.22,164.77 530.88,164.81C531.55,164.84 532.22,164.82 532.88,164.77C533.55,164.71 534.22,164.61 534.88,164.47C535.55,164.32 536.22,164.14 536.88,163.88C537.55,163.63 538.22,163.31 538.88,162.92C539.55,162.53 540.22,162.07 540.88,161.55C541.55,161.03 542.22,160.46 542.88,159.79C543.55,159.11 544.22,158.38 544.88,157.52C545.55,156.66 546.22,155.68 546.88,154.64C547.55,153.6 548.22,152.44 548.88,151.31C549.55,150.17 550.22,148.96 550.88,147.83C551.55,146.7 552.22,145.53 552.88,144.51C553.55,143.49 554.22,142.48 554.88,141.7C555.55,140.92 556.22,140.26 556.88,139.84C557.55,139.41 558.22,139.2 558.88,139.14C559.55,139.08 560.22,139.28 560.88,139.5C561.55,139.73 562.22,140.13 562.88,140.48C563.55,140.82 564.22,141.23 564.88,141.58C565.55,141.93 566.22,142.26 566.88,142.55C567.55,142.85 568.22,143.12 568.88,143.36C569.55,143.6 570.22,143.82 570.88,144C571.55,144.19 572.22,144.35 572.88,144.5C573.55,144.65 574.22,144.76 574.88,144.9C575.55,145.04 576.22,145.17 576.88,145.32C577.55,145.48 578.22,145.64 578.88,145.83C579.55,146.02 580.22,146.22 580.88,146.43C581.55,146.65 582.22,146.88 582.88,147.12C583.55,147.37 584.22,147.63 584.88,147.9C585.55,148.18 586.22,148.48 586.88,148.79C587.55,149.09 588.22,149.41 588.88,149.71C589.55,150 590.22,150.3 590.88,150.55C591.55,150.8 592.22,151.02 592.88,151.21C593.55,151.4 594.22,151.55 594.88,151.7C595.55,151.85 596.22,151.96 596.88,152.09C597.55,152.21 598.22,152.33 598.88,152.45C599.55,152.57 600.22,152.69 600.88,152.82C601.55,152.94 602.22,153.07 602.88,153.2C603.55,153.33 604.22,153.46 604.88,153.6C605.55,153.73 606.22,153.87 606.88,154.02C607.55,154.16 608.22,154.31 608.88,154.46C609.55,154.61 610.22,154.77 610.88,154.93C611.55,155.09 612.25,155.25 612.88,155.41C613.52,155.56 614.38,155.8 614.68,155.88L614.68,192.08C614.38,192.31 613.52,192.97 612.88,193.43C612.25,193.88 611.55,194.35 610.88,194.81C610.22,195.28 609.55,195.76 608.88,196.24C608.22,196.71 607.55,197.2 606.88,197.68C606.22,198.17 605.55,198.66 604.88,199.16C604.22,199.65 603.55,200.15 602.88,200.68C602.22,201.2 601.55,201.73 600.88,202.29C600.22,202.85 599.55,203.44 598.88,204.04C598.22,204.63 597.55,205.25 596.88,205.88C596.22,206.5 595.55,207.13 594.88,207.77C594.22,208.41 593.55,209.06 592.88,209.7C592.22,210.34 591.55,211.01 590.88,211.63C590.22,212.25 589.55,212.88 588.88,213.41C588.22,213.94 587.55,214.45 586.88,214.8C586.22,215.14 585.55,215.42 584.88,215.5C584.22,215.57 583.55,215.52 582.88,215.26C582.22,215 581.55,214.54 580.88,213.93C580.22,213.32 579.55,212.5 578.88,211.59C578.22,210.69 577.55,209.61 576.88,208.49C576.22,207.36 575.55,206.11 574.88,204.86C574.22,203.61 573.55,202.28 572.88,200.98C572.22,199.69 571.55,198.35 570.88,197.09C570.22,195.83 569.55,194.57 568.88,193.41C568.22,192.25 567.55,191.13 566.88,190.14C566.22,189.16 565.55,188.26 564.88,187.51C564.22,186.77 563.55,186.17 562.88,185.69C562.22,185.21 561.55,184.9 560.88,184.63C560.22,184.36 559.55,184.2 558.88,184.07C558.22,183.94 557.55,183.86 556.88,183.83C556.22,183.8 555.55,183.83 554.88,183.88C554.22,183.94 553.55,184.04 552.88,184.18C552.22,184.33 551.55,184.5 550.88,184.73C550.22,184.97 549.55,185.26 548.88,185.61C548.22,185.95 547.55,186.37 546.88,186.82C546.22,187.27 545.55,187.76 544.88,188.3C544.22,188.84 543.55,189.42 542.88,190.05C542.22,190.67 541.55,191.39 540.88,192.04C540.22,192.7 539.55,193.44 538.88,193.99C538.22,194.53 537.55,195.03 536.88,195.3C536.22,195.57 535.55,195.64 534.88,195.61C534.22,195.58 533.55,195.35 532.88,195.13C532.22,194.91 531.55,194.59 530.88,194.28C530.22,193.97 529.55,193.63 528.88,193.29C528.22,192.94 527.55,192.58 526.88,192.2C526.22,191.82 525.55,191.42 524.88,191.01C524.22,190.6 523.55,190.17 522.88,189.76C522.22,189.35 521.55,188.93 520.88,188.55C520.22,188.18 519.55,187.82 518.88,187.5C518.22,187.19 517.55,186.91 516.88,186.66C516.22,186.41 515.55,186.19 514.88,186.02C514.22,185.84 513.55,185.69 512.88,185.6C512.22,185.5 511.55,185.47 510.88,185.46C510.22,185.45 509.55,185.5 508.88,185.56C508.22,185.61 507.55,185.69 506.88,185.78C506.22,185.86 505.55,185.96 504.88,186.07C504.22,186.19 503.55,186.31 502.88,186.47C502.22,186.62 501.55,186.8 500.88,186.99C500.22,187.17 499.55,187.39 498.88,187.59C498.22,187.79 497.55,188 496.88,188.18C496.22,188.35 495.55,188.52 494.88,188.63C494.22,188.74 493.55,188.82 492.88,188.84C492.22,188.86 491.55,188.82 490.88,188.78C490.22,188.73 489.55,188.63 488.88,188.55C488.22,188.48 487.55,188.38 486.88,188.32C486.22,188.25 485.55,188.2 484.88,188.18C484.22,188.17 483.55,188.19 482.88,188.23C482.22,188.27 481.55,188.35 480.88,188.43C480.22,188.51 479.55,188.61 478.88,188.72C478.22,188.84 477.55,188.96 476.88,189.11C476.22,189.27 475.55,189.45 474.88,189.66C474.22,189.87 473.55,190.12 472.88,190.36C472.22,190.6 471.55,190.88 470.88,191.09C470.22,191.3 469.55,191.51 468.88,191.61C468.22,191.72 467.55,191.76 466.88,191.72C466.22,191.67 465.55,191.52 464.88,191.35C464.22,191.17 463.55,190.91 462.88,190.66C462.22,190.41 461.55,190.12 460.88,189.83C460.22,189.54 459.55,189.22 458.88,188.92C458.22,188.62 457.55,188.29 456.88,188.03C456.22,187.76 455.55,187.49 454.88,187.33C454.22,187.17 453.55,187.07 452.88,187.05C452.22,187.04 451.55,187.14 450.88,187.25C450.22,187.35 449.55,187.55 448.88,187.67C448.22,187.79 447.55,187.93 446.88,187.96C446.22,188 445.55,187.98 444.88,187.89C444.22,187.79 443.55,187.62 442.88,187.39C442.22,187.17 441.55,186.87 440.88,186.53C440.22,186.2 439.55,185.8 438.88,185.39C438.22,184.97 437.55,184.53 436.88,184.04C436.22,183.56 435.55,183.05 434.88,182.5C434.22,181.95 433.55,181.35 432.88,180.74C432.22,180.12 431.55,179.46 430.88,178.8C430.22,178.13 429.55,177.45 428.88,176.74C428.22,176.04 427.55,175.32 426.88,174.58C426.22,173.85 425.55,173.09 424.88,172.32C424.22,171.56 423.55,170.78 422.88,169.98C422.22,169.18 421.55,168.37 420.88,167.54C420.22,166.71 419.55,165.85 418.88,165.01C418.22,164.16 417.55,163.28 416.88,162.46C416.22,161.64 415.55,160.82 414.88,160.08C414.22,159.35 413.55,158.67 412.88,158.06C412.22,157.45 411.55,156.92 410.88,156.44C410.22,155.96 409.55,155.52 408.88,155.17C408.22,154.82 407.55,154.52 406.88,154.32C406.22,154.12 405.55,154.02 404.88,153.97C404.22,153.92 403.55,153.96 402.88,154.02C402.22,154.08 401.55,154.19 400.88,154.34C400.22,154.48 399.55,154.66 398.88,154.88C398.22,155.1 397.55,155.36 396.88,155.64C396.22,155.92 395.55,156.23 394.88,156.55C394.22,156.87 393.55,157.21 392.88,157.56C392.22,157.92 391.55,158.29 390.88,158.68C390.22,159.07 389.55,159.46 388.88,159.9C388.22,160.34 387.55,160.79 386.88,161.31C386.22,161.82 385.55,162.39 384.88,162.99C384.22,163.59 383.55,164.26 382.88,164.89C382.22,165.52 381.55,166.2 380.88,166.77C380.22,167.34 379.55,167.89 378.88,168.34C378.22,168.79 377.55,169.18 376.88,169.49C376.22,169.8 375.55,170.05 374.88,170.22C374.22,170.39 373.55,170.47 372.88,170.51C372.22,170.55 371.55,170.5 370.88,170.44C370.22,170.38 369.55,170.27 368.88,170.16C368.22,170.05 367.55,169.91 366.88,169.78C366.22,169.64 365.55,169.48 364.88,169.33C364.22,169.18 363.55,169.01 362.88,168.85C362.22,168.68 361.55,168.52 360.88,168.35C360.22,168.18 359.55,168.02 358.88,167.85C358.22,167.68 357.55,167.52 356.88,167.35C356.22,167.18 355.55,167.02 354.88,166.85C354.22,166.68 353.55,166.52 352.88,166.35C352.22,166.18 351.55,166.02 350.88,165.85C350.22,165.69 349.55,165.52 348.88,165.36C348.22,165.2 347.55,165.04 346.88,164.88C346.22,164.73 345.55,164.57 344.88,164.42C344.22,164.27 343.55,164.12 342.88,163.98C342.22,163.84 341.55,163.71 340.88,163.59C340.22,163.47 339.55,163.36 338.88,163.25C338.22,163.15 337.55,163.05 336.88,162.98C336.22,162.9 335.55,162.83 334.88,162.8C334.22,162.78 333.55,162.78 332.88,162.83C332.22,162.87 331.55,162.97 330.88,163.09C330.22,163.21 329.55,163.37 328.88,163.52C328.22,163.67 327.55,163.85 326.88,164C326.22,164.16 325.55,164.32 324.88,164.44C324.22,164.56 323.55,164.67 322.88,164.72C322.22,164.77 321.55,164.77 320.88,164.73C320.22,164.7 319.55,164.61 318.88,164.51C318.22,164.41 317.55,164.28 316.88,164.16C316.22,164.03 315.55,163.9 314.88,163.75C314.22,163.61 313.55,163.47 312.88,163.3C312.22,163.13 311.55,162.95 310.88,162.72C310.22,162.5 309.55,162.24 308.88,161.97C308.22,161.69 307.55,161.38 306.88,161.06C306.22,160.75 305.55,160.41 304.88,160.08C304.22,159.75 303.55,159.41 302.88,159.06C302.22,158.72 301.55,158.37 300.88,158.02C300.22,157.66 299.55,157.29 298.88,156.94C298.22,156.59 297.55,156.22 296.88,155.92C296.22,155.62 295.55,155.33 294.88,155.14C294.22,154.95 293.55,154.82 292.88,154.81C292.22,154.79 291.55,154.87 290.88,155.06C290.22,155.25 289.55,155.56 288.88,155.97C288.22,156.37 287.55,156.9 286.88,157.47C286.22,158.04 285.55,158.7 284.88,159.38C284.22,160.06 283.55,160.79 282.88,161.54C282.22,162.3 281.55,163.11 280.88,163.93C280.22,164.75 279.55,165.62 278.88,166.48C278.22,167.33 277.55,168.21 276.88,169.06C276.22,169.91 275.55,170.76 274.88,171.58C274.22,172.4 273.55,173.21 272.88,173.99C272.22,174.77 271.55,175.54 270.88,176.26C270.22,176.99 269.55,177.69 268.88,178.32C268.22,178.95 267.55,179.54 266.88,180.06C266.22,180.58 265.55,181.06 264.88,181.46C264.22,181.87 263.55,182.22 262.88,182.5C262.22,182.78 261.55,182.97 260.88,183.14C260.22,183.3 259.55,183.39 258.88,183.47C258.22,183.56 257.55,183.61 256.88,183.65C256.22,183.7 255.55,183.73 254.88,183.74C254.22,183.75 253.55,183.74 252.88,183.72C252.22,183.7 251.55,183.66 250.88,183.63C250.22,183.59 249.55,183.54 248.88,183.51C248.22,183.47 247.55,183.43 246.88,183.43C246.22,183.43 245.55,183.44 244.88,183.48C244.22,183.53 243.55,183.61 242.88,183.71C242.22,183.81 241.55,183.93 240.88,184.06C240.22,184.19 239.55,184.33 238.88,184.47C238.22,184.61 237.55,184.75 236.88,184.9C236.22,185.05 235.55,185.2 234.88,185.35C234.22,185.5 233.55,185.65 232.88,185.8C232.22,185.94 231.55,186.09 230.88,186.22C230.22,186.36 229.55,186.48 228.88,186.61C228.22,186.73 227.55,186.85 226.88,186.97C226.22,187.09 225.55,187.2 224.88,187.32C224.22,187.44 223.55,187.55 222.88,187.67C222.22,187.79 221.55,187.9 220.88,188.01C220.22,188.13 219.55,188.25 218.88,188.35C218.22,188.44 217.55,188.56 216.88,188.6C216.22,188.65 215.55,188.69 214.88,188.61C214.22,188.54 213.55,188.4 212.88,188.15C212.22,187.9 211.55,187.54 210.88,187.11C210.22,186.68 209.55,186.16 208.88,185.57C208.22,184.98 207.55,184.3 206.88,183.57C206.22,182.85 205.55,182.03 204.88,181.21C204.22,180.38 203.55,179.5 202.88,178.62C202.22,177.74 201.55,176.83 200.88,175.93C200.22,175.02 199.55,174.1 198.88,173.21C198.22,172.32 197.55,171.41 196.88,170.6C196.22,169.79 195.55,169.01 194.88,168.35C194.22,167.69 193.55,167.12 192.88,166.66C192.22,166.2 191.55,165.83 190.88,165.6C190.22,165.37 189.55,165.25 188.88,165.28C188.22,165.31 187.55,165.52 186.88,165.79C186.22,166.05 185.55,166.46 184.88,166.86C184.22,167.25 183.55,167.71 182.88,168.14C182.22,168.58 181.55,169.03 180.88,169.48C180.22,169.93 179.55,170.37 178.88,170.85C178.22,171.33 177.55,171.81 176.88,172.35C176.22,172.88 175.55,173.47 174.88,174.08C174.22,174.69 173.55,175.39 172.88,176.01C172.22,176.64 171.55,177.32 170.88,177.84C170.22,178.36 169.55,178.82 168.88,179.12C168.22,179.42 167.55,179.56 166.88,179.62C166.22,179.68 165.55,179.59 164.88,179.47C164.22,179.35 163.55,179.14 162.88,178.9C162.22,178.66 161.55,178.35 160.88,178.04C160.22,177.73 159.55,177.37 158.88,177.03C158.22,176.7 157.55,176.35 156.88,176.05C156.22,175.74 155.55,175.46 154.88,175.21C154.22,174.96 153.55,174.74 152.88,174.56C152.22,174.38 151.55,174.22 150.88,174.13C150.22,174.04 149.55,173.99 148.88,174.03C148.22,174.07 147.55,174.19 146.88,174.36C146.22,174.52 145.55,174.77 144.88,175.02C144.22,175.28 143.55,175.57 142.88,175.88C142.22,176.18 141.55,176.52 140.88,176.87C140.22,177.22 139.55,177.59 138.88,177.97C138.22,178.35 137.55,178.75 136.88,179.15C136.22,179.55 135.55,179.96 134.88,180.36C134.22,180.77 133.55,181.18 132.88,181.6C132.22,182.01 131.55,182.42 130.88,182.84C130.22,183.26 129.55,183.67 128.88,184.09C128.22,184.51 127.55,184.93 126.88,185.35C126.22,185.78 125.55,186.2 124.88,186.63C124.22,187.06 123.55,187.49 122.88,187.92C122.22,188.36 121.55,188.79 120.88,189.22C120.22,189.65 119.55,190.08 118.88,190.48C118.22,190.89 117.55,191.28 116.88,191.66C116.22,192.03 115.55,192.39 114.88,192.73C114.22,193.07 113.55,193.4 112.88,193.7C112.22,194.01 111.55,194.31 110.88,194.55C110.22,194.79 109.55,195.01 108.88,195.16C108.22,195.31 107.55,195.4 106.88,195.45C106.22,195.5 105.55,195.5 104.88,195.45C104.22,195.4 103.55,195.31 102.88,195.14C102.22,194.97 101.55,194.73 100.88,194.43C100.22,194.12 99.55,193.75 98.88,193.33C98.22,192.92 97.55,192.46 96.88,191.94C96.22,191.43 95.55,190.87 94.88,190.25C94.22,189.63 93.55,188.95 92.88,188.23C92.22,187.52 91.55,186.75 90.88,185.98C90.22,185.2 89.55,184.4 88.88,183.58C88.22,182.76 87.55,181.92 86.88,181.08C86.22,180.24 85.55,179.36 84.88,178.53C84.22,177.71 83.55,176.86 82.88,176.15C82.22,175.43 81.55,174.76 80.88,174.22C80.22,173.69 79.55,173.27 78.88,172.93C78.22,172.6 77.55,172.36 76.88,172.19C76.22,172.01 75.55,171.9 74.88,171.89C74.22,171.88 73.55,171.96 72.88,172.13C72.22,172.3 71.55,172.57 70.88,172.9C70.22,173.22 69.55,173.64 68.88,174.08C68.22,174.52 67.55,175.03 66.88,175.54C66.22,176.04 65.55,176.59 64.88,177.1C64.22,177.62 63.55,178.14 62.88,178.63C62.22,179.11 61.55,179.58 60.88,180.01C60.22,180.44 59.55,180.86 58.88,181.2C58.22,181.55 57.55,181.88 56.88,182.08C56.22,182.29 55.55,182.42 54.88,182.42C54.22,182.43 53.55,182.31 52.88,182.12C52.22,181.94 51.55,181.66 50.88,181.33C50.22,180.99 49.55,180.59 48.88,180.12C48.22,179.65 47.55,179.1 46.88,178.5C46.22,177.9 45.55,177.22 44.88,176.53C44.22,175.85 43.55,175.12 42.88,174.4C42.22,173.69 41.22,172.59 40.88,172.23Z" fill="#cfcccc" fill-opacity="0.52" stroke="none"/>
<path d="M40.88,158.91C41.22,159.08 42.22,159.6 42.88,159.94C43.55,160.27 44.22,160.61 44.88,160.91C45.55,161.2 46.22,161.49 46.88,161.73C47.55,161.96 48.22,162.16 48.88,162.33C49.55,162.49 50.22,162.62 50.88,162.7C51.55,162.79 52.22,162.85 52.88,162.85C53.55,162.84 54.22,162.79 54.88,162.67C55.55,162.56 56.22,162.37 56.88,162.16C57.55,161.95 58.22,161.68 58.88,161.4C59.55,161.11 60.22,160.8 60.88,160.45C61.55,160.11 62.22,159.73 62.88,159.34C63.55,158.95 64.22,158.52 64.88,158.11C65.55,157.71 66.22,157.3 66.88,156.93C67.55,156.56 68.22,156.21 68.88,155.92C69.55,155.63 70.22,155.37 70.88,155.17C71.55,154.98 72.22,154.82 72.88,154.74C73.55,154.67 74.22,154.65 74.88,154.72C75.55,154.79 76.22,154.93 76.88,155.16C77.55,155.39 78.22,155.69 78.88,156.1C79.55,156.51 80.22,157.02 80.88,157.6C81.55,158.19 82.22,158.89 82.88,159.61C83.55,160.33 84.22,161.12 84.88,161.91C85.55,162.7 86.22,163.52 86.88,164.32C87.55,165.13 88.22,165.95 88.88,166.75C89.55,167.54 90.22,168.35 90.88,169.09C91.55,169.84 92.22,170.56 92.88,171.22C93.55,171.88 94.22,172.48 94.88,173.04C95.55,173.6 96.22,174.12 96.88,174.59C97.55,175.06 98.22,175.5 98.88,175.87C99.55,176.23 100.22,176.55 100.88,176.8C101.55,177.05 102.22,177.23 102.88,177.36C103.55,177.49 104.22,177.56 104.88,177.58C105.55,177.61 106.22,177.56 106.88,177.48C107.55,177.4 108.22,177.27 108.88,177.11C109.55,176.96 110.22,176.77 110.88,176.56C111.55,176.36 112.22,176.13 112.88,175.87C113.55,175.61 114.22,175.33 114.88,175.03C115.55,174.74 116.22,174.42 116.88,174.1C117.55,173.79 118.22,173.46 118.88,173.14C119.55,172.81 120.22,172.48 120.88,172.16C121.55,171.83 122.22,171.5 122.88,171.17C123.55,170.84 124.22,170.51 124.88,170.2C125.55,169.89 126.22,169.58 126.88,169.3C127.55,169.01 128.22,168.75 128.88,168.5C129.55,168.26 130.22,168.04 130.88,167.82C131.55,167.6 132.22,167.4 132.88,167.2C133.55,167 134.22,166.8 134.88,166.62C135.55,166.44 136.22,166.26 136.88,166.1C137.55,165.94 138.22,165.79 138.88,165.65C139.55,165.52 140.22,165.39 140.88,165.27C141.55,165.15 142.22,165.04 142.88,164.93C143.55,164.83 144.22,164.73 144.88,164.65C145.55,164.58 146.22,164.52 146.88,164.49C147.55,164.45 148.22,164.45 148.88,164.45C149.55,164.46 150.22,164.49 150.88,164.51C151.55,164.54 152.22,164.57 152.88,164.59C153.55,164.62 154.22,164.64 154.88,164.66C155.55,164.67 156.22,164.68 156.88,164.68C157.55,164.68 158.22,164.67 158.88,164.66C159.55,164.65 160.22,164.64 160.88,164.61C161.55,164.58 162.22,164.55 162.88,164.49C163.55,164.42 164.22,164.34 164.88,164.2C165.55,164.07 166.22,163.89 166.88,163.68C167.55,163.47 168.22,163.22 168.88,162.92C169.55,162.63 170.22,162.31 170.88,161.93C171.55,161.55 172.22,161.12 172.88,160.66C173.55,160.19 174.22,159.67 174.88,159.16C175.55,158.66 176.22,158.12 176.88,157.63C177.55,157.14 178.22,156.65 178.88,156.2C179.55,155.74 180.22,155.31 180.88,154.92C181.55,154.52 182.22,154.15 182.88,153.82C183.55,153.49 184.22,153.18 184.88,152.94C185.55,152.69 186.22,152.48 186.88,152.35C187.55,152.23 188.22,152.16 188.88,152.2C189.55,152.24 190.22,152.36 190.88,152.6C191.55,152.84 192.22,153.19 192.88,153.64C193.55,154.09 194.22,154.66 194.88,155.29C195.55,155.93 196.22,156.67 196.88,157.44C197.55,158.21 198.22,159.07 198.88,159.9C199.55,160.73 200.22,161.61 200.88,162.41C201.55,163.22 202.22,164 202.88,164.73C203.55,165.45 204.22,166.13 204.88,166.77C205.55,167.41 206.22,168.02 206.88,168.55C207.55,169.09 208.22,169.58 208.88,169.98C209.55,170.38 210.22,170.7 210.88,170.95C211.55,171.2 212.22,171.39 212.88,171.51C213.55,171.63 214.22,171.69 214.88,171.67C215.55,171.66 216.22,171.58 216.88,171.44C217.55,171.3 218.22,171.1 218.88,170.85C219.55,170.6 220.22,170.29 220.88,169.93C221.55,169.57 222.22,169.14 222.88,168.69C223.55,168.25 224.22,167.75 224.88,167.27C225.55,166.79 226.22,166.28 226.88,165.8C227.55,165.32 228.22,164.85 228.88,164.39C229.55,163.93 230.22,163.47 230.88,163.05C231.55,162.62 232.22,162.2 232.88,161.84C233.55,161.48 234.22,161.15 234.88,160.88C235.55,160.61 236.22,160.4 236.88,160.23C237.55,160.07 238.22,159.95 238.88,159.89C239.55,159.82 240.22,159.8 240.88,159.83C241.55,159.86 242.22,159.95 242.88,160.05C243.55,160.16 244.22,160.31 244.88,160.47C245.55,160.62 246.22,160.8 246.88,160.99C247.55,161.19 248.22,161.4 248.88,161.61C249.55,161.82 250.22,162.06 250.88,162.27C251.55,162.49 252.22,162.72 252.88,162.9C253.55,163.09 254.22,163.26 254.88,163.39C255.55,163.52 256.22,163.61 256.88,163.67C257.55,163.72 258.22,163.74 258.88,163.7C259.55,163.66 260.22,163.58 260.88,163.44C261.55,163.29 262.22,163.09 262.88,162.84C263.55,162.58 264.22,162.27 264.88,161.9C265.55,161.53 266.22,161.1 266.88,160.62C267.55,160.14 268.22,159.58 268.88,159.02C269.55,158.46 270.22,157.84 270.88,157.24C271.55,156.64 272.22,156.02 272.88,155.41C273.55,154.8 274.22,154.19 274.88,153.59C275.55,152.99 276.22,152.39 276.88,151.81C277.55,151.23 278.22,150.65 278.88,150.11C279.55,149.57 280.22,149.05 280.88,148.56C281.55,148.07 282.22,147.61 282.88,147.17C283.55,146.74 284.22,146.32 284.88,145.94C285.55,145.56 286.22,145.2 286.88,144.9C287.55,144.59 288.22,144.32 288.88,144.09C289.55,143.86 290.22,143.66 290.88,143.49C291.55,143.32 292.22,143.18 292.88,143.07C293.55,142.96 294.22,142.88 294.88,142.84C295.55,142.8 296.22,142.8 296.88,142.82C297.55,142.85 298.22,142.9 298.88,142.99C299.55,143.08 300.22,143.21 300.88,143.39C301.55,143.56 302.22,143.8 302.88,144.06C303.55,144.31 304.22,144.63 304.88,144.94C305.55,145.24 306.22,145.58 306.88,145.91C307.55,146.24 308.22,146.57 308.88,146.9C309.55,147.24 310.22,147.57 310.88,147.9C311.55,148.23 312.22,148.56 312.88,148.87C313.55,149.18 314.22,149.48 314.88,149.76C315.55,150.04 316.22,150.31 316.88,150.55C317.55,150.8 318.22,151.02 318.88,151.23C319.55,151.43 320.22,151.63 320.88,151.77C321.55,151.92 322.22,152.05 322.88,152.13C323.55,152.21 324.22,152.24 324.88,152.26C325.55,152.28 326.22,152.26 326.88,152.24C327.55,152.22 328.22,152.18 328.88,152.16C329.55,152.13 330.22,152.1 330.88,152.09C331.55,152.09 332.22,152.1 332.88,152.14C333.55,152.18 334.22,152.25 334.88,152.34C335.55,152.43 336.22,152.55 336.88,152.67C337.55,152.79 338.22,152.92 338.88,153.06C339.55,153.19 340.22,153.33 340.88,153.47C341.55,153.61 342.22,153.76 342.88,153.91C343.55,154.05 344.22,154.21 344.88,154.35C345.55,154.49 346.22,154.63 346.88,154.74C347.55,154.86 348.22,154.96 348.88,155.04C349.55,155.12 350.22,155.17 350.88,155.21C351.55,155.25 352.22,155.27 352.88,155.28C353.55,155.28 354.22,155.27 354.88,155.24C355.55,155.2 356.22,155.14 356.88,155.07C357.55,155 358.22,154.9 358.88,154.79C359.55,154.69 360.22,154.57 360.88,154.44C361.55,154.32 362.22,154.18 362.88,154.03C363.55,153.88 364.22,153.72 364.88,153.55C365.55,153.38 366.22,153.2 366.88,153.02C367.55,152.84 368.22,152.65 368.88,152.45C369.55,152.26 370.22,152.05 370.88,151.84C371.55,151.63 372.22,151.41 372.88,151.17C373.55,150.94 374.22,150.7 374.88,150.42C375.55,150.15 376.22,149.86 376.88,149.53C377.55,149.21 378.22,148.85 378.88,148.48C379.55,148.12 380.22,147.72 380.88,147.34C381.55,146.95 382.22,146.55 382.88,146.16C383.55,145.78 384.22,145.39 384.88,145.01C385.55,144.63 386.22,144.25 386.88,143.89C387.55,143.53 388.22,143.18 388.88,142.86C389.55,142.55 390.22,142.26 390.88,142.01C391.55,141.76 392.22,141.55 392.88,141.37C393.55,141.18 394.22,141.03 394.88,140.91C395.55,140.79 396.22,140.69 396.88,140.65C397.55,140.61 398.22,140.61 398.88,140.65C399.55,140.7 400.22,140.79 400.88,140.93C401.55,141.07 402.22,141.26 402.88,141.5C403.55,141.75 404.22,142.06 404.88,142.41C405.55,142.76 406.22,143.17 406.88,143.63C407.55,144.09 408.22,144.59 408.88,145.15C409.55,145.7 410.22,146.32 410.88,146.96C411.55,147.6 412.22,148.29 412.88,148.99C413.55,149.68 414.22,150.41 414.88,151.14C415.55,151.86 416.22,152.61 416.88,153.36C417.55,154.11 418.22,154.88 418.88,155.63C419.55,156.39 420.22,157.16 420.88,157.9C421.55,158.64 422.22,159.37 422.88,160.06C423.55,160.75 424.22,161.42 424.88,162.05C425.55,162.69 426.22,163.3 426.88,163.88C427.55,164.46 428.22,165.02 428.88,165.54C429.55,166.05 430.22,166.53 430.88,166.97C431.55,167.4 432.22,167.79 432.88,168.16C433.55,168.52 434.22,168.85 434.88,169.16C435.55,169.46 436.22,169.74 436.88,169.98C437.55,170.22 438.22,170.42 438.88,170.61C439.55,170.79 440.22,170.94 440.88,171.09C441.55,171.25 442.22,171.38 442.88,171.53C443.55,171.67 444.22,171.81 444.88,171.96C445.55,172.11 446.22,172.26 446.88,172.41C447.55,172.56 448.22,172.72 448.88,172.88C449.55,173.04 450.22,173.2 450.88,173.36C451.55,173.53 452.22,173.7 452.88,173.87C453.55,174.05 454.22,174.22 454.88,174.4C455.55,174.58 456.22,174.76 456.88,174.95C457.55,175.13 458.22,175.32 458.88,175.51C459.55,175.7 460.22,175.9 460.88,176.09C461.55,176.27 462.22,176.47 462.88,176.65C463.55,176.82 464.22,176.99 464.88,177.13C465.55,177.28 466.22,177.4 466.88,177.51C467.55,177.61 468.22,177.7 468.88,177.77C469.55,177.84 470.22,177.9 470.88,177.93C471.55,177.96 472.22,177.98 472.88,177.95C473.55,177.92 474.22,177.86 474.88,177.76C475.55,177.66 476.22,177.5 476.88,177.34C477.55,177.18 478.22,176.97 478.88,176.78C479.55,176.58 480.22,176.38 480.88,176.2C481.55,176.02 482.22,175.84 482.88,175.69C483.55,175.54 484.22,175.41 484.88,175.28C485.55,175.16 486.22,175.05 486.88,174.96C487.55,174.86 488.22,174.78 488.88,174.71C489.55,174.65 490.22,174.6 490.88,174.56C491.55,174.52 492.22,174.5 492.88,174.47C493.55,174.45 494.22,174.43 494.88,174.41C495.55,174.39 496.22,174.38 496.88,174.35C497.55,174.33 498.22,174.31 498.88,174.28C499.55,174.26 500.22,174.23 500.88,174.2C501.55,174.17 502.22,174.13 502.88,174.1C503.55,174.06 504.22,174.03 504.88,173.99C505.55,173.95 506.22,173.9 506.88,173.85C507.55,173.79 508.22,173.73 508.88,173.66C509.55,173.6 510.22,173.51 510.88,173.46C511.55,173.4 512.22,173.33 512.88,173.32C513.55,173.31 514.22,173.32 514.88,173.4C515.55,173.47 516.22,173.61 516.88,173.77C517.55,173.93 518.22,174.14 518.88,174.36C519.55,174.58 520.22,174.82 520.88,175.07C521.55,175.33 522.22,175.6 522.88,175.88C523.55,176.16 524.22,176.46 524.88,176.74C525.55,177.02 526.22,177.32 526.88,177.58C527.55,177.84 528.22,178.09 528.88,178.29C529.55,178.49 530.22,178.67 530.88,178.8C531.55,178.93 532.22,179.04 532.88,179.08C533.55,179.13 534.22,179.14 534.88,179.05C535.55,178.97 536.22,178.81 536.88,178.56C537.55,178.32 538.22,177.98 538.88,177.56C539.55,177.14 540.22,176.64 540.88,176.05C541.55,175.47 542.22,174.77 542.88,174.03C543.55,173.29 544.22,172.45 544.88,171.61C545.55,170.77 546.22,169.87 546.88,168.99C547.55,168.11 548.22,167.21 548.88,166.35C549.55,165.48 550.22,164.61 550.88,163.8C551.55,163 552.22,162.2 552.88,161.52C553.55,160.83 554.22,160.19 554.88,159.68C555.55,159.16 556.22,158.72 556.88,158.41C557.55,158.1 558.22,157.89 558.88,157.82C559.55,157.74 560.22,157.79 560.88,157.97C561.55,158.14 562.22,158.45 562.88,158.87C563.55,159.29 564.22,159.86 564.88,160.48C565.55,161.11 566.22,161.85 566.88,162.63C567.55,163.41 568.22,164.28 568.88,165.18C569.55,166.08 570.22,167.07 570.88,168.04C571.55,169.01 572.22,170.04 572.88,171C573.55,171.97 574.22,172.93 574.88,173.82C575.55,174.72 576.22,175.57 576.88,176.36C577.55,177.15 578.22,177.89 578.88,178.54C579.55,179.19 580.22,179.77 580.88,180.27C581.55,180.76 582.22,181.17 582.88,181.51C583.55,181.85 584.22,182.11 584.88,182.3C585.55,182.49 586.22,182.6 586.88,182.64C587.55,182.69 588.22,182.65 588.88,182.56C589.55,182.47 590.22,182.32 590.88,182.12C591.55,181.92 592.22,181.66 592.88,181.36C593.55,181.07 594.22,180.71 594.88,180.35C595.55,179.99 596.22,179.6 596.88,179.21C597.55,178.83 598.22,178.43 598.88,178.05C599.55,177.66 600.22,177.27 600.88,176.9C601.55,176.52 602.22,176.15 602.88,175.8C603.55,175.44 604.22,175.1 604.88,174.79C605.55,174.48 606.22,174.2 606.88,173.94C607.55,173.68 608.22,173.46 608.88,173.24C609.55,173.03 610.22,172.83 610.88,172.64C611.55,172.44 612.25,172.26 612.88,172.07C613.52,171.89 614.38,171.62 614.68,171.53" fill="none" stroke="#000" stroke-width="1.75" stroke-linejoin="round"/>
</g>
<rect x="25.4" y="119.78" width="604.9" height="106.1" fill="none" stroke="#363636" stroke-width="1.15"/>
<rect x="630.3" y="119.78" width="51.5" height="106.1" fill="#dbdbdb" stroke="#333" stroke-width="1"/>
<path d="M630.3,119.48V226.18" stroke="#333" stroke-width="1.6" fill="none"/>
<g clip-path="url(#cs1)" font-size="18.7" fill="#111" text-anchor="middle">
<text transform="translate(659.8,170.22) rotate(90)">air</text>
<text transform="translate(640.2,172.82) rotate(90)">temperture</text>
</g>
<path d="M20.1,161.88H25.4M20.1,216.18H25.4" stroke="#333" stroke-width="1.8" fill="none"/>
<g font-size="13.2" fill="#1c1c1c" text-anchor="end">
<text x="16.4" y="166.43">0</text>
<text x="16.4" y="220.73">-1</text>
</g>
<g clip-path="url(#cp2)">
<path d="M56.91,236.15V342.25M73.32,236.15V342.25M89.73,236.15V342.25M106.15,236.15V342.25M138.97,236.15V342.25M155.38,236.15V342.25M171.79,236.15V342.25M188.2,236.15V342.25M221.03,236.15V342.25M237.44,236.15V342.25M253.85,236.15V342.25M270.26,236.15V342.25M303.08,236.15V342.25M319.49,236.15V342.25M335.91,236.15V342.25M352.32,236.15V342.25M385.14,236.15V342.25M401.55,236.15V342.25M417.96,236.15V342.25M434.37,236.15V342.25M467.2,236.15V342.25M483.61,236.15V342.25M500.02,236.15V342.25M516.43,236.15V342.25M549.25,236.15V342.25M565.67,236.15V342.25M582.08,236.15V342.25M598.49,236.15V342.25" stroke="#efefef" stroke-width="1" fill="none"/>
<path d="M25.4,240.8H630.3M25.4,289.45H630.3M25.4,338.1H630.3" stroke="#e9e9e9" stroke-width="1.3" fill="none"/>
<path d="M40.5,236.15V342.25M122.56,236.15V342.25M204.61,236.15V342.25M286.67,236.15V342.25M368.73,236.15V342.25M450.79,236.15V342.25M532.84,236.15V342.25M614.9,236.15V342.25" stroke="#b0b0b0" stroke-width="1.5" fill="none"/>
<rect x="410.66" y="330.6" width="14.6" height="7.5" fill="#e8de2e"/>
<rect x="427.07" y="311" width="14.6" height="27.1" fill="#e8de2e"/>
<rect x="443.49" y="312.2" width="14.6" height="25.9" fill="#e8de2e"/>
<rect x="459.9" y="312.2" width="14.6" height="25.9" fill="#e8de2e"/>
<rect x="476.31" y="313.3" width="14.6" height="24.8" fill="#e8de2e"/>
<rect x="492.72" y="305.9" width="14.6" height="32.2" fill="#e8de2e"/>
<rect x="509.13" y="279.9" width="14.6" height="58.2" fill="#e8de2e"/>
<rect x="525.54" y="263.4" width="14.6" height="74.7" fill="#e8de2e"/>
<rect x="541.95" y="266.4" width="14.6" height="71.7" fill="#e8de2e"/>
<rect x="558.37" y="246.3" width="14.6" height="91.8" fill="#e8de2e"/>
<rect x="574.78" y="258.2" width="14.6" height="79.9" fill="#e8de2e"/>
<rect x="591.19" y="254.9" width="14.6" height="83.2" fill="#e8de2e"/>
<rect x="607.6" y="314" width="14.6" height="24.1" fill="#e8de2e"/>
</g>
<rect x="25.4" y="236.15" width="604.9" height="106.1" fill="none" stroke="#363636" stroke-width="1.15"/>
<rect x="630.3" y="236.15" width="51.5" height="106.1" fill="#dbdbdb" stroke="#333" stroke-width="1"/>
<path d="M630.3,235.85V342.55" stroke="#333" stroke-width="1.6" fill="none"/>
<g clip-path="url(#cs2)" font-size="18.7" fill="#111" text-anchor="middle">
<text transform="translate(659.8,286.6) rotate(90)">broomcorn</text>
<text transform="translate(640.2,289.2) rotate(90)">millet</text>
</g>
<path d="M20.1,240.8H25.4M20.1,338.1H25.4" stroke="#333" stroke-width="1.8" fill="none"/>
<g font-size="13.2" fill="#1c1c1c" text-anchor="end">
<text x="16.4" y="245.35">5</text>
<text x="16.4" y="342.65">0</text>
</g>
<g clip-path="url(#cp3)">
<path d="M56.91,352.52V458.62M73.32,352.52V458.62M89.73,352.52V458.62M106.15,352.52V458.62M138.97,352.52V458.62M155.38,352.52V458.62M171.79,352.52V458.62M188.2,352.52V458.62M221.03,352.52V458.62M237.44,352.52V458.62M253.85,352.52V458.62M270.26,352.52V458.62M303.08,352.52V458.62M319.49,352.52V458.62M335.91,352.52V458.62M352.32,352.52V458.62M385.14,352.52V458.62M401.55,352.52V458.62M417.96,352.52V458.62M434.37,352.52V458.62M467.2,352.52V458.62M483.61,352.52V458.62M500.02,352.52V458.62M516.43,352.52V458.62M549.25,352.52V458.62M565.67,352.52V458.62M582.08,352.52V458.62M598.49,352.52V458.62" stroke="#efefef" stroke-width="1" fill="none"/>
<path d="M25.4,357.17H630.3M25.4,381.5H630.3M25.4,405.82H630.3M25.4,430.15H630.3M25.4,454.47H630.3" stroke="#e9e9e9" stroke-width="1.3" fill="none"/>
<path d="M40.5,352.52V458.62M122.56,352.52V458.62M204.61,352.52V458.62M286.67,352.52V458.62M368.73,352.52V458.62M450.79,352.52V458.62M532.84,352.52V458.62M614.9,352.52V458.62" stroke="#b0b0b0" stroke-width="1.5" fill="none"/>
<rect x="33.2" y="439.97" width="14.6" height="14.5" fill="#c2e37f"/>
<rect x="49.61" y="435.07" width="14.6" height="19.4" fill="#c2e37f"/>
<rect x="66.02" y="427.87" width="14.6" height="26.6" fill="#c2e37f"/>
<rect x="82.43" y="425.27" width="14.6" height="29.2" fill="#c2e37f"/>
<rect x="98.85" y="402.17" width="14.6" height="52.3" fill="#c2e37f"/>
<rect x="115.26" y="415.67" width="14.6" height="38.8" fill="#c2e37f"/>
<rect x="131.67" y="416.67" width="14.6" height="37.8" fill="#c2e37f"/>
<rect x="148.08" y="414.27" width="14.6" height="40.2" fill="#c2e37f"/>
<rect x="164.49" y="401.17" width="14.6" height="53.3" fill="#c2e37f"/>
<rect x="180.9" y="396.87" width="14.6" height="57.6" fill="#c2e37f"/>
<rect x="197.31" y="392.57" width="14.6" height="61.9" fill="#c2e37f"/>
<rect x="213.73" y="412.47" width="14.6" height="42" fill="#c2e37f"/>
<rect x="230.14" y="419.17" width="14.6" height="35.3" fill="#c2e37f"/>
<rect x="246.55" y="421.97" width="14.6" height="32.5" fill="#c2e37f"/>
<rect x="262.96" y="423.37" width="14.6" height="31.1" fill="#c2e37f"/>
<rect x="279.37" y="420.57" width="14.6" height="33.9" fill="#c2e37f"/>
<rect x="295.78" y="410.77" width="14.6" height="43.7" fill="#c2e37f"/>
<rect x="312.19" y="419.47" width="14.6" height="35" fill="#c2e37f"/>
<rect x="328.61" y="420.17" width="14.6" height="34.3" fill="#c2e37f"/>
<rect x="345.02" y="417.77" width="14.6" height="36.7" fill="#c2e37f"/>
<rect x="361.43" y="418.27" width="14.6" height="36.2" fill="#c2e37f"/>
<rect x="377.84" y="418.47" width="14.6" height="36" fill="#c2e37f"/>
<rect x="394.25" y="421.27" width="14.6" height="33.2" fill="#c2e37f"/>
<rect x="410.66" y="429.27" width="14.6" height="25.2" fill="#c2e37f"/>
<rect x="427.07" y="427.37" width="14.6" height="27.1" fill="#c2e37f"/>
<rect x="443.49" y="425.27" width="14.6" height="29.2" fill="#c2e37f"/>
<rect x="459.9" y="423.87" width="14.6" height="30.6" fill="#c2e37f"/>
<rect x="476.31" y="421.27" width="14.6" height="33.2" fill="#c2e37f"/>
<rect x="492.72" y="425.27" width="14.6" height="29.2" fill="#c2e37f"/>
<rect x="509.13" y="409.67" width="14.6" height="44.8" fill="#c2e37f"/>
<rect x="525.54" y="401.87" width="14.6" height="52.6" fill="#c2e37f"/>
<rect x="541.95" y="399.07" width="14.6" height="55.4" fill="#c2e37f"/>
<rect x="558.37" y="384.88" width="14.6" height="69.6" fill="#c2e37f"/>
<rect x="574.78" y="384.38" width="14.6" height="70.1" fill="#c2e37f"/>
<rect x="591.19" y="378.07" width="14.6" height="76.4" fill="#c2e37f"/>
<rect x="607.6" y="413.17" width="14.6" height="41.3" fill="#c2e37f"/>
</g>
<rect x="25.4" y="352.52" width="604.9" height="106.1" fill="none" stroke="#363636" stroke-width="1.15"/>
<rect x="630.3" y="352.52" width="51.5" height="106.1" fill="#dbdbdb" stroke="#333" stroke-width="1"/>
<path d="M630.3,352.22V458.93" stroke="#333" stroke-width="1.6" fill="none"/>
<g clip-path="url(#cs3)" font-size="18.7" fill="#111" text-anchor="middle">
<text transform="translate(659.8,402.97) rotate(90)">naked</text>
<text transform="translate(640.2,405.57) rotate(90)">barley</text>
</g>
<path d="M20.1,357.17H25.4M20.1,405.82H25.4M20.1,454.47H25.4" stroke="#333" stroke-width="1.8" fill="none"/>
<g font-size="13.2" fill="#1c1c1c" text-anchor="end">
<text x="16.4" y="361.72">10</text>
<text x="16.4" y="410.38">5</text>
<text x="16.4" y="459.02">0</text>
</g>
<g clip-path="url(#cp4)">
<path d="M56.91,468.9V575M73.32,468.9V575M89.73,468.9V575M106.15,468.9V575M138.97,468.9V575M155.38,468.9V575M171.79,468.9V575M188.2,468.9V575M221.03,468.9V575M237.44,468.9V575M253.85,468.9V575M270.26,468.9V575M303.08,468.9V575M319.49,468.9V575M335.91,468.9V575M352.32,468.9V575M385.14,468.9V575M401.55,468.9V575M417.96,468.9V575M434.37,468.9V575M467.2,468.9V575M483.61,468.9V575M500.02,468.9V575M516.43,468.9V575M549.25,468.9V575M565.67,468.9V575M582.08,468.9V575M598.49,468.9V575" stroke="#efefef" stroke-width="1" fill="none"/>
<path d="M25.4,473.55H630.3M25.4,497.88H630.3M25.4,522.2H630.3M25.4,546.53H630.3M25.4,570.85H630.3" stroke="#e9e9e9" stroke-width="1.3" fill="none"/>
<path d="M40.5,468.9V575M122.56,468.9V575M204.61,468.9V575M286.67,468.9V575M368.73,468.9V575M450.79,468.9V575M532.84,468.9V575M614.9,468.9V575" stroke="#b0b0b0" stroke-width="1.5" fill="none"/>
<rect x="33.2" y="565.95" width="14.6" height="4.9" fill="#a3d05b"/>
<rect x="49.61" y="558.75" width="14.6" height="12.1" fill="#a3d05b"/>
<rect x="66.02" y="563.85" width="14.6" height="7" fill="#a3d05b"/>
<rect x="82.43" y="563.85" width="14.6" height="7" fill="#a3d05b"/>
<rect x="98.85" y="565.05" width="14.6" height="5.8" fill="#a3d05b"/>
<rect x="115.26" y="563.35" width="14.6" height="7.5" fill="#a3d05b"/>
<rect x="131.67" y="564.55" width="14.6" height="6.3" fill="#a3d05b"/>
<rect x="148.08" y="555.65" width="14.6" height="15.2" fill="#a3d05b"/>
<rect x="164.49" y="545.15" width="14.6" height="25.7" fill="#a3d05b"/>
<rect x="180.9" y="535.85" width="14.6" height="35" fill="#a3d05b"/>
<rect x="197.31" y="534.45" width="14.6" height="36.4" fill="#a3d05b"/>
<rect x="213.73" y="548.15" width="14.6" height="22.7" fill="#a3d05b"/>
<rect x="230.14" y="559.15" width="14.6" height="11.7" fill="#a3d05b"/>
<rect x="246.55" y="562.45" width="14.6" height="8.4" fill="#a3d05b"/>
<rect x="262.96" y="561.25" width="14.6" height="9.6" fill="#a3d05b"/>
<rect x="279.37" y="563.85" width="14.6" height="7" fill="#a3d05b"/>
<rect x="295.78" y="563.85" width="14.6" height="7" fill="#a3d05b"/>
<rect x="312.19" y="561.25" width="14.6" height="9.6" fill="#a3d05b"/>
<rect x="328.61" y="562.25" width="14.6" height="8.6" fill="#a3d05b"/>
<rect x="345.02" y="562.95" width="14.6" height="7.9" fill="#a3d05b"/>
<rect x="361.43" y="558.25" width="14.6" height="12.6" fill="#a3d05b"/>
<rect x="377.84" y="558.05" width="14.6" height="12.8" fill="#a3d05b"/>
<rect x="394.25" y="556.65" width="14.6" height="14.2" fill="#a3d05b"/>
<rect x="410.66" y="557.05" width="14.6" height="13.8" fill="#a3d05b"/>
<rect x="427.07" y="530.25" width="14.6" height="40.6" fill="#a3d05b"/>
<rect x="443.49" y="524.15" width="14.6" height="46.7" fill="#a3d05b"/>
<rect x="459.9" y="517.35" width="14.6" height="53.5" fill="#a3d05b"/>
<rect x="476.31" y="509.75" width="14.6" height="61.1" fill="#a3d05b"/>
<rect x="492.72" y="518.05" width="14.6" height="52.8" fill="#a3d05b"/>
<rect x="509.13" y="510.15" width="14.6" height="60.7" fill="#a3d05b"/>
<rect x="525.54" y="501.95" width="14.6" height="68.9" fill="#a3d05b"/>
<rect x="541.95" y="499.85" width="14.6" height="71" fill="#a3d05b"/>
<rect x="558.37" y="501.95" width="14.6" height="68.9" fill="#a3d05b"/>
<rect x="574.78" y="504.05" width="14.6" height="66.8" fill="#a3d05b"/>
<rect x="591.19" y="512.45" width="14.6" height="58.4" fill="#a3d05b"/>
<rect x="607.6" y="534.15" width="14.6" height="36.7" fill="#a3d05b"/>
</g>
<rect x="25.4" y="468.9" width="604.9" height="106.1" fill="none" stroke="#363636" stroke-width="1.15"/>
<rect x="630.3" y="468.9" width="51.5" height="106.1" fill="#dbdbdb" stroke="#333" stroke-width="1"/>
<path d="M630.3,468.6V575.3" stroke="#333" stroke-width="1.6" fill="none"/>
<g clip-path="url(#cs4)" font-size="18.7" fill="#111" text-anchor="middle">
<text transform="translate(659.8,519.35) rotate(90)">hulled</text>
<text transform="translate(640.2,521.95) rotate(90)">barley</text>
</g>
<path d="M20.1,473.55H25.4M20.1,522.2H25.4M20.1,570.85H25.4" stroke="#333" stroke-width="1.8" fill="none"/>
<g font-size="13.2" fill="#1c1c1c" text-anchor="end">
<text x="16.4" y="478.1">10</text>
<text x="16.4" y="526.75">5</text>
<text x="16.4" y="575.4">0</text>
</g>
<g clip-path="url(#cp5)">
<path d="M56.91,585.27V691.38M73.32,585.27V691.38M89.73,585.27V691.38M106.15,585.27V691.38M138.97,585.27V691.38M155.38,585.27V691.38M171.79,585.27V691.38M188.2,585.27V691.38M221.03,585.27V691.38M237.44,585.27V691.38M253.85,585.27V691.38M270.26,585.27V691.38M303.08,585.27V691.38M319.49,585.27V691.38M335.91,585.27V691.38M352.32,585.27V691.38M385.14,585.27V691.38M401.55,585.27V691.38M417.96,585.27V691.38M434.37,585.27V691.38M467.2,585.27V691.38M483.61,585.27V691.38M500.02,585.27V691.38M516.43,585.27V691.38M549.25,585.27V691.38M565.67,585.27V691.38M582.08,585.27V691.38M598.49,585.27V691.38" stroke="#efefef" stroke-width="1" fill="none"/>
<path d="M25.4,589.92H630.3M25.4,638.57H630.3M25.4,687.23H630.3" stroke="#e9e9e9" stroke-width="1.3" fill="none"/>
<path d="M40.5,585.27V691.38M122.56,585.27V691.38M204.61,585.27V691.38M286.67,585.27V691.38M368.73,585.27V691.38M450.79,585.27V691.38M532.84,585.27V691.38M614.9,585.27V691.38" stroke="#b0b0b0" stroke-width="1.5" fill="none"/>
<rect x="213.73" y="679.02" width="14.6" height="8.2" fill="#efa02a"/>
<rect x="230.14" y="680.43" width="14.6" height="6.8" fill="#efa02a"/>
<rect x="312.19" y="683.52" width="14.6" height="3.7" fill="#efa02a"/>
<rect x="328.61" y="659.62" width="14.6" height="27.6" fill="#efa02a"/>
<rect x="345.02" y="660.12" width="14.6" height="27.1" fill="#efa02a"/>
<rect x="361.43" y="657.33" width="14.6" height="29.9" fill="#efa02a"/>
<rect x="377.84" y="659.93" width="14.6" height="27.3" fill="#efa02a"/>
<rect x="394.25" y="661.52" width="14.6" height="25.7" fill="#efa02a"/>
<rect x="410.66" y="655.23" width="14.6" height="32" fill="#efa02a"/>
<rect x="427.07" y="640.93" width="14.6" height="46.3" fill="#efa02a"/>
<rect x="443.49" y="648.73" width="14.6" height="38.5" fill="#efa02a"/>
<rect x="459.9" y="661.52" width="14.6" height="25.7" fill="#efa02a"/>
<rect x="476.31" y="659.93" width="14.6" height="27.3" fill="#efa02a"/>
<rect x="492.72" y="661.52" width="14.6" height="25.7" fill="#efa02a"/>
<rect x="509.13" y="641.43" width="14.6" height="45.8" fill="#efa02a"/>
<rect x="525.54" y="639.12" width="14.6" height="48.1" fill="#efa02a"/>
<rect x="541.95" y="647.52" width="14.6" height="39.7" fill="#efa02a"/>
<rect x="558.37" y="655.73" width="14.6" height="31.5" fill="#efa02a"/>
<rect x="574.78" y="663.83" width="14.6" height="23.4" fill="#efa02a"/>
<rect x="591.19" y="659.93" width="14.6" height="27.3" fill="#efa02a"/>
<rect x="607.6" y="663.43" width="14.6" height="23.8" fill="#efa02a"/>
</g>
<rect x="25.4" y="585.27" width="604.9" height="106.1" fill="none" stroke="#363636" stroke-width="1.15"/>
<rect x="630.3" y="585.27" width="51.5" height="106.1" fill="#dbdbdb" stroke="#333" stroke-width="1"/>
<path d="M630.3,584.98V691.67" stroke="#333" stroke-width="1.6" fill="none"/>
<g clip-path="url(#cs5)" font-size="18.7" fill="#111" text-anchor="middle">
<text transform="translate(649.5,638.32) rotate(90)">spelt</text>
</g>
<path d="M20.1,589.92H25.4M20.1,687.23H25.4" stroke="#333" stroke-width="1.8" fill="none"/>
<g font-size="13.2" fill="#1c1c1c" text-anchor="end">
<text x="16.4" y="594.47">5</text>
<text x="16.4" y="691.77">0</text>
</g>
<g clip-path="url(#cp6)">
<path d="M56.91,701.65V807.75M73.32,701.65V807.75M89.73,701.65V807.75M106.15,701.65V807.75M138.97,701.65V807.75M155.38,701.65V807.75M171.79,701.65V807.75M188.2,701.65V807.75M221.03,701.65V807.75M237.44,701.65V807.75M253.85,701.65V807.75M270.26,701.65V807.75M303.08,701.65V807.75M319.49,701.65V807.75M335.91,701.65V807.75M352.32,701.65V807.75M385.14,701.65V807.75M401.55,701.65V807.75M417.96,701.65V807.75M434.37,701.65V807.75M467.2,701.65V807.75M483.61,701.65V807.75M500.02,701.65V807.75M516.43,701.65V807.75M549.25,701.65V807.75M565.67,701.65V807.75M582.08,701.65V807.75M598.49,701.65V807.75" stroke="#efefef" stroke-width="1" fill="none"/>
<path d="M25.4,706.3H630.3M25.4,754.95H630.3M25.4,803.6H630.3" stroke="#e9e9e9" stroke-width="1.3" fill="none"/>
<path d="M40.5,701.65V807.75M122.56,701.65V807.75M204.61,701.65V807.75M286.67,701.65V807.75M368.73,701.65V807.75M450.79,701.65V807.75M532.84,701.65V807.75M614.9,701.65V807.75" stroke="#b0b0b0" stroke-width="1.5" fill="none"/>
<rect x="49.61" y="769.7" width="14.6" height="33.9" fill="#e98728"/>
<rect x="66.02" y="764.8" width="14.6" height="38.8" fill="#e98728"/>
<rect x="82.43" y="764.8" width="14.6" height="38.8" fill="#e98728"/>
<rect x="98.85" y="772.5" width="14.6" height="31.1" fill="#e98728"/>
<rect x="115.26" y="769" width="14.6" height="34.6" fill="#e98728"/>
<rect x="131.67" y="773.2" width="14.6" height="30.4" fill="#e98728"/>
<rect x="148.08" y="786.5" width="14.6" height="17.1" fill="#e98728"/>
<rect x="164.49" y="792.2" width="14.6" height="11.4" fill="#e98728"/>
<rect x="180.9" y="784.2" width="14.6" height="19.4" fill="#e98728"/>
<rect x="197.31" y="784.2" width="14.6" height="19.4" fill="#e98728"/>
<rect x="213.73" y="790.8" width="14.6" height="12.8" fill="#e98728"/>
<rect x="230.14" y="770.2" width="14.6" height="33.4" fill="#e98728"/>
<rect x="246.55" y="767.2" width="14.6" height="36.4" fill="#e98728"/>
<rect x="262.96" y="745.2" width="14.6" height="58.4" fill="#e98728"/>
<rect x="279.37" y="798.9" width="14.6" height="4.7" fill="#e98728"/>
<rect x="295.78" y="794" width="14.6" height="9.6" fill="#e98728"/>
<rect x="312.19" y="792.2" width="14.6" height="11.4" fill="#e98728"/>
<rect x="328.61" y="782.1" width="14.6" height="21.5" fill="#e98728"/>
<rect x="345.02" y="783.3" width="14.6" height="20.3" fill="#e98728"/>
<rect x="361.43" y="782.3" width="14.6" height="21.3" fill="#e98728"/>
<rect x="377.84" y="782.3" width="14.6" height="21.3" fill="#e98728"/>
<rect x="394.25" y="782.3" width="14.6" height="21.3" fill="#e98728"/>
<rect x="410.66" y="786.3" width="14.6" height="17.3" fill="#e98728"/>
<rect x="427.07" y="764.8" width="14.6" height="38.8" fill="#e98728"/>
<rect x="443.49" y="774.4" width="14.6" height="29.2" fill="#e98728"/>
<rect x="459.9" y="784.2" width="14.6" height="19.4" fill="#e98728"/>
<rect x="476.31" y="776" width="14.6" height="27.6" fill="#e98728"/>
<rect x="492.72" y="784.2" width="14.6" height="19.4" fill="#e98728"/>
<rect x="509.13" y="769.3" width="14.6" height="34.3" fill="#e98728"/>
<rect x="525.54" y="761.6" width="14.6" height="42" fill="#e98728"/>
<rect x="541.95" y="762" width="14.6" height="41.6" fill="#e98728"/>
<rect x="558.37" y="763.2" width="14.6" height="40.4" fill="#e98728"/>
<rect x="574.78" y="756.4" width="14.6" height="47.2" fill="#e98728"/>
<rect x="591.19" y="762.3" width="14.6" height="41.3" fill="#e98728"/>
<rect x="607.6" y="779.3" width="14.6" height="24.3" fill="#e98728"/>
</g>
<rect x="25.4" y="701.65" width="604.9" height="106.1" fill="none" stroke="#363636" stroke-width="1.15"/>
<rect x="630.3" y="701.65" width="51.5" height="106.1" fill="#dbdbdb" stroke="#333" stroke-width="1"/>
<path d="M630.3,701.35V808.05" stroke="#333" stroke-width="1.6" fill="none"/>
<g clip-path="url(#cs6)" font-size="18.7" fill="#111" text-anchor="middle">
<text transform="translate(659.8,809.85) rotate(90)" text-anchor="end" font-size="18.5">free-threshing</text>
<text transform="translate(640.2,754.7) rotate(90)">wheat</text>
</g>
<path d="M20.1,706.3H25.4M20.1,803.6H25.4" stroke="#333" stroke-width="1.8" fill="none"/>
<g font-size="13.2" fill="#1c1c1c" text-anchor="end">
<text x="16.4" y="710.85">5</text>
<text x="16.4" y="808.15">0</text>
</g>
<g clip-path="url(#cp7)">
<path d="M56.91,818.02V924.12M73.32,818.02V924.12M89.73,818.02V924.12M106.15,818.02V924.12M138.97,818.02V924.12M155.38,818.02V924.12M171.79,818.02V924.12M188.2,818.02V924.12M221.03,818.02V924.12M237.44,818.02V924.12M253.85,818.02V924.12M270.26,818.02V924.12M303.08,818.02V924.12M319.49,818.02V924.12M335.91,818.02V924.12M352.32,818.02V924.12M385.14,818.02V924.12M401.55,818.02V924.12M417.96,818.02V924.12M434.37,818.02V924.12M467.2,818.02V924.12M483.61,818.02V924.12M500.02,818.02V924.12M516.43,818.02V924.12M549.25,818.02V924.12M565.67,818.02V924.12M582.08,818.02V924.12M598.49,818.02V924.12" stroke="#efefef" stroke-width="1" fill="none"/>
<path d="M25.4,822.67H630.3M25.4,871.32H630.3M25.4,919.98H630.3" stroke="#e9e9e9" stroke-width="1.3" fill="none"/>
<path d="M40.5,818.02V924.12M122.56,818.02V924.12M204.61,818.02V924.12M286.67,818.02V924.12M368.73,818.02V924.12M450.79,818.02V924.12M532.84,818.02V924.12M614.9,818.02V924.12" stroke="#b0b0b0" stroke-width="1.5" fill="none"/>
<rect x="33.2" y="910.18" width="14.6" height="9.8" fill="#d0690b"/>
<rect x="49.61" y="890.98" width="14.6" height="29" fill="#d0690b"/>
<rect x="66.02" y="886.08" width="14.6" height="33.9" fill="#d0690b"/>
<rect x="82.43" y="876.08" width="14.6" height="43.9" fill="#d0690b"/>
<rect x="98.85" y="884.98" width="14.6" height="35" fill="#d0690b"/>
<rect x="115.26" y="902.68" width="14.6" height="17.3" fill="#d0690b"/>
<rect x="131.67" y="908.98" width="14.6" height="11" fill="#d0690b"/>
<rect x="148.08" y="893.38" width="14.6" height="26.6" fill="#d0690b"/>
<rect x="164.49" y="883.77" width="14.6" height="36.2" fill="#d0690b"/>
<rect x="180.9" y="875.18" width="14.6" height="44.8" fill="#d0690b"/>
<rect x="197.31" y="872.27" width="14.6" height="47.7" fill="#d0690b"/>
<rect x="213.73" y="887.48" width="14.6" height="32.5" fill="#d0690b"/>
<rect x="230.14" y="897.08" width="14.6" height="22.9" fill="#d0690b"/>
<rect x="246.55" y="898.27" width="14.6" height="21.7" fill="#d0690b"/>
<rect x="262.96" y="884.98" width="14.6" height="35" fill="#d0690b"/>
<rect x="279.37" y="915.08" width="14.6" height="4.9" fill="#d0690b"/>
<rect x="312.19" y="916.27" width="14.6" height="3.7" fill="#d0690b"/>
<rect x="328.61" y="898.48" width="14.6" height="21.5" fill="#d0690b"/>
<rect x="345.02" y="896.58" width="14.6" height="23.4" fill="#d0690b"/>
<rect x="361.43" y="894.98" width="14.6" height="25" fill="#d0690b"/>
<rect x="377.84" y="895.18" width="14.6" height="24.8" fill="#d0690b"/>
<rect x="394.25" y="895.88" width="14.6" height="24.1" fill="#d0690b"/>
<rect x="410.66" y="894.08" width="14.6" height="25.9" fill="#d0690b"/>
<rect x="427.07" y="881.18" width="14.6" height="38.8" fill="#d0690b"/>
<rect x="443.49" y="884.27" width="14.6" height="35.7" fill="#d0690b"/>
<rect x="459.9" y="890.98" width="14.6" height="29" fill="#d0690b"/>
<rect x="476.31" y="900.58" width="14.6" height="19.4" fill="#d0690b"/>
<rect x="492.72" y="902.68" width="14.6" height="17.3" fill="#d0690b"/>
<rect x="509.13" y="901.98" width="14.6" height="18" fill="#d0690b"/>
<rect x="525.54" y="897.27" width="14.6" height="22.7" fill="#d0690b"/>
<rect x="541.95" y="891.68" width="14.6" height="28.3" fill="#d0690b"/>
<rect x="558.37" y="890.08" width="14.6" height="29.9" fill="#d0690b"/>
<rect x="574.78" y="885.38" width="14.6" height="34.6" fill="#d0690b"/>
<rect x="591.19" y="897.98" width="14.6" height="22" fill="#d0690b"/>
<rect x="607.6" y="905.48" width="14.6" height="14.5" fill="#d0690b"/>
</g>
<rect x="25.4" y="818.02" width="604.9" height="106.1" fill="none" stroke="#363636" stroke-width="1.15"/>
<rect x="630.3" y="818.02" width="51.5" height="106.1" fill="#dbdbdb" stroke="#333" stroke-width="1"/>
<path d="M630.3,817.73V924.42" stroke="#333" stroke-width="1.6" fill="none"/>
<g clip-path="url(#cs7)" font-size="18.7" fill="#111" text-anchor="middle">
<text transform="translate(649.5,871.07) rotate(90)">einkorn</text>
</g>
<path d="M20.1,822.67H25.4M20.1,919.98H25.4" stroke="#333" stroke-width="1.8" fill="none"/>
<g font-size="13.2" fill="#1c1c1c" text-anchor="end">
<text x="16.4" y="827.22">5</text>
<text x="16.4" y="924.52">0</text>
</g>
<g clip-path="url(#cp8)">
<path d="M56.91,934.4V1040.5M73.32,934.4V1040.5M89.73,934.4V1040.5M106.15,934.4V1040.5M138.97,934.4V1040.5M155.38,934.4V1040.5M171.79,934.4V1040.5M188.2,934.4V1040.5M221.03,934.4V1040.5M237.44,934.4V1040.5M253.85,934.4V1040.5M270.26,934.4V1040.5M303.08,934.4V1040.5M319.49,934.4V1040.5M335.91,934.4V1040.5M352.32,934.4V1040.5M385.14,934.4V1040.5M401.55,934.4V1040.5M417.96,934.4V1040.5M434.37,934.4V1040.5M467.2,934.4V1040.5M483.61,934.4V1040.5M500.02,934.4V1040.5M516.43,934.4V1040.5M549.25,934.4V1040.5M565.67,934.4V1040.5M582.08,934.4V1040.5M598.49,934.4V1040.5" stroke="#efefef" stroke-width="1" fill="none"/>
<path d="M25.4,939.05H630.3M25.4,963.38H630.3M25.4,987.7H630.3M25.4,1012.03H630.3M25.4,1036.35H630.3" stroke="#e9e9e9" stroke-width="1.3" fill="none"/>
<path d="M40.5,934.4V1040.5M122.56,934.4V1040.5M204.61,934.4V1040.5M286.67,934.4V1040.5M368.73,934.4V1040.5M450.79,934.4V1040.5M532.84,934.4V1040.5M614.9,934.4V1040.5" stroke="#b0b0b0" stroke-width="1.5" fill="none"/>
<rect x="33.2" y="1007.35" width="14.6" height="29" fill="#8a4708"/>
<rect x="49.61" y="1000.15" width="14.6" height="36.2" fill="#8a4708"/>
<rect x="66.02" y="995.25" width="14.6" height="41.1" fill="#8a4708"/>
<rect x="82.43" y="987.95" width="14.6" height="48.4" fill="#8a4708"/>
<rect x="98.85" y="990.05" width="14.6" height="46.3" fill="#8a4708"/>
<rect x="115.26" y="987.95" width="14.6" height="48.4" fill="#8a4708"/>
<rect x="131.67" y="989.15" width="14.6" height="47.2" fill="#8a4708"/>
<rect x="148.08" y="970.95" width="14.6" height="65.4" fill="#8a4708"/>
<rect x="164.49" y="958.75" width="14.6" height="77.6" fill="#8a4708"/>
<rect x="180.9" y="949.25" width="14.6" height="87.1" fill="#8a4708"/>
<rect x="197.31" y="952.45" width="14.6" height="83.9" fill="#8a4708"/>
<rect x="213.73" y="964.15" width="14.6" height="72.2" fill="#8a4708"/>
<rect x="230.14" y="989.65" width="14.6" height="46.7" fill="#8a4708"/>
<rect x="246.55" y="997.85" width="14.6" height="38.5" fill="#8a4708"/>
<rect x="262.96" y="984.05" width="14.6" height="52.3" fill="#8a4708"/>
<rect x="279.37" y="1000.15" width="14.6" height="36.2" fill="#8a4708"/>
<rect x="295.78" y="1012.25" width="14.6" height="24.1" fill="#8a4708"/>
<rect x="312.19" y="1009.45" width="14.6" height="26.9" fill="#8a4708"/>
<rect x="328.61" y="1008.35" width="14.6" height="28" fill="#8a4708"/>
<rect x="345.02" y="1008.05" width="14.6" height="28.3" fill="#8a4708"/>
<rect x="361.43" y="1002.45" width="14.6" height="33.9" fill="#8a4708"/>
<rect x="377.84" y="1000.15" width="14.6" height="36.2" fill="#8a4708"/>
<rect x="394.25" y="1001.35" width="14.6" height="35" fill="#8a4708"/>
<rect x="410.66" y="997.55" width="14.6" height="38.8" fill="#8a4708"/>
<rect x="427.07" y="958.75" width="14.6" height="77.6" fill="#8a4708"/>
<rect x="443.49" y="958.75" width="14.6" height="77.6" fill="#8a4708"/>
<rect x="459.9" y="966.95" width="14.6" height="69.4" fill="#8a4708"/>
<rect x="476.31" y="971.15" width="14.6" height="65.2" fill="#8a4708"/>
<rect x="492.72" y="975.15" width="14.6" height="61.2" fill="#8a4708"/>
<rect x="509.13" y="963.25" width="14.6" height="73.1" fill="#8a4708"/>
<rect x="525.54" y="940.15" width="14.6" height="96.2" fill="#8a4708"/>
<rect x="541.95" y="945.25" width="14.6" height="91.1" fill="#8a4708"/>
<rect x="558.37" y="943.85" width="14.6" height="92.5" fill="#8a4708"/>
<rect x="574.78" y="946.85" width="14.6" height="89.5" fill="#8a4708"/>
<rect x="591.19" y="950.35" width="14.6" height="86" fill="#8a4708"/>
<rect x="607.6" y="990.35" width="14.6" height="46" fill="#8a4708"/>
</g>
<rect x="25.4" y="934.4" width="604.9" height="106.1" fill="none" stroke="#363636" stroke-width="1.15"/>
<rect x="630.3" y="934.4" width="51.5" height="106.1" fill="#dbdbdb" stroke="#333" stroke-width="1"/>
<path d="M630.3,934.1V1040.8" stroke="#333" stroke-width="1.6" fill="none"/>
<g clip-path="url(#cs8)" font-size="18.7" fill="#111" text-anchor="middle">
<text transform="translate(649.5,987.45) rotate(90)">emmer</text>
</g>
<path d="M20.1,939.05H25.4M20.1,987.7H25.4M20.1,1036.35H25.4" stroke="#333" stroke-width="1.8" fill="none"/>
<g font-size="13.2" fill="#1c1c1c" text-anchor="end">
<text x="16.4" y="943.6">10</text>
<text x="16.4" y="992.25">5</text>
<text x="16.4" y="1040.9">0</text>
</g>
<g font-size="12.1" font-weight="bold" fill="#111" stroke="#111" stroke-width="0.25" text-anchor="end">
<text x="628.2" y="36.4">n=14</text>
<text x="628.2" y="145">n=35</text>
</g>
<path d="M40.5,1040.5V1045.5M122.56,1040.5V1045.5M204.61,1040.5V1045.5M286.67,1040.5V1045.5M368.73,1040.5V1045.5M450.79,1040.5V1045.5M532.84,1040.5V1045.5M614.9,1040.5V1045.5" stroke="#333" stroke-width="1.8" fill="none"/>
<g font-size="16.9" fill="#111" text-anchor="middle">
<text x="40.5" y="1061.5">-4000</text>
<text x="122.56" y="1061.5">-3500</text>
<text x="204.61" y="1061.5">-3000</text>
<text x="286.67" y="1061.5">-2500</text>
<text x="368.73" y="1061.5">-2000</text>
<text x="450.79" y="1061.5">-1500</text>
<text x="532.84" y="1061.5">-1000</text>
<text x="614.9" y="1061.5">-500</text>
</g>
<text x="327.8" y="1083.5" font-size="20.3" font-weight="bold" fill="#000" text-anchor="middle">Age BCE</text>
</svg>
</body></html>
